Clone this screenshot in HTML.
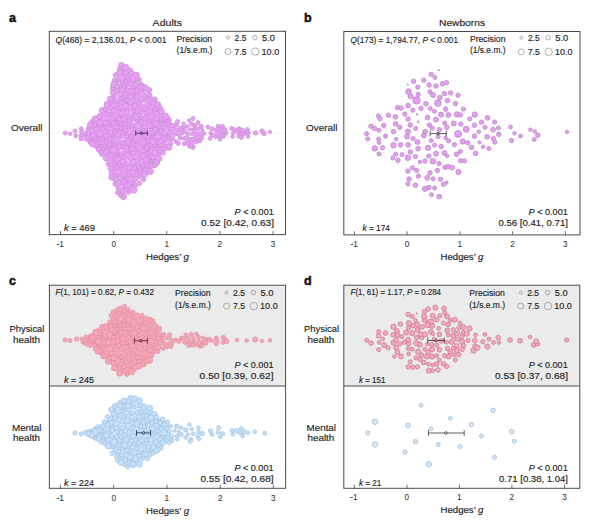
<!DOCTYPE html>
<html><head><meta charset="utf-8"><title>Figure</title>
<style>html,body{margin:0;padding:0;background:#fff}svg{display:block}text{white-space:pre;stroke:#222;stroke-width:0.14px}</style>
</head><body>
<svg width="600" height="523" viewBox="0 0 600 523" font-family="Liberation Sans, sans-serif" fill="#222">
<rect width="600" height="523" fill="#fff"/>
<path d="M51.5 133H284" stroke="#ebebeb" stroke-width="0.8"/>
<polygon points="92.0,124.8 93.3,123.6 94.7,122.2 96.0,120.6 97.3,119.0 98.7,117.4 100.0,115.8 101.3,114.1 102.7,112.2 104.0,110.4 105.3,108.5 106.7,106.6 108.0,104.8 109.3,100.9 110.7,96.1 112.0,91.4 113.3,86.2 114.7,80.4 116.0,75.5 117.3,72.5 118.7,69.6 120.0,66.7 121.3,65.9 122.7,66.9 124.0,67.9 125.3,68.8 126.7,69.8 128.0,70.7 129.3,71.6 130.7,72.5 132.0,73.4 133.3,74.4 134.7,75.3 136.0,76.8 137.3,78.6 138.7,80.4 140.0,82.1 141.3,83.7 142.7,84.9 144.0,86.1 145.3,87.4 146.7,88.6 148.0,89.9 149.3,92.2 150.7,94.5 152.0,96.8 153.3,99.1 154.7,101.3 156.0,103.5 157.3,105.8 158.7,108.0 160.0,109.9 161.3,111.5 162.7,113.1 164.0,114.6 165.3,116.2 166.7,117.8 168.0,119.5 169.3,121.2 170.7,122.8 172.0,124.5 172.0,141.2 170.7,143.1 169.3,145.0 168.0,146.8 166.7,148.7 165.3,150.3 164.0,151.9 162.7,153.4 161.3,155.0 160.0,156.6 158.7,158.3 157.3,160.0 156.0,161.8 154.7,163.5 153.3,165.3 152.0,167.1 150.7,168.8 149.3,170.6 148.0,172.3 146.7,174.1 145.3,175.8 144.0,177.6 142.7,179.3 141.3,181.1 140.0,182.5 138.7,183.7 137.3,184.8 136.0,186.0 134.7,187.2 133.3,188.5 132.0,189.7 130.7,191.0 129.3,192.2 128.0,193.5 126.7,194.7 125.3,195.9 124.0,197.1 122.7,198.2 121.3,196.9 120.0,195.6 118.7,193.2 117.3,190.7 116.0,188.2 114.7,183.8 113.3,178.7 112.0,174.0 110.7,169.7 109.3,165.4 108.0,161.8 106.7,160.0 105.3,158.1 104.0,156.3 102.7,154.4 101.3,152.6 100.0,150.9 98.7,149.3 97.3,147.7 96.0,146.1 94.7,144.5 93.3,143.2 92.0,142.1" fill="#e79ff3" fill-opacity="0.55" stroke="none"/>
<g fill="#e79ff3" stroke="#c88fd8" stroke-width="0.7" fill-opacity="1">
<circle cx="65.3" cy="133.0" r="2.00"/>
<circle cx="70.0" cy="133.8" r="1.80"/>
<circle cx="75.0" cy="131.0" r="2.00"/>
<circle cx="75.8" cy="135.8" r="2.00"/>
<circle cx="81.2" cy="128.5" r="1.80"/>
<circle cx="81.8" cy="132.0" r="2.30"/>
<circle cx="81.0" cy="135.5" r="2.00"/>
<circle cx="81.2" cy="138.7" r="2.20"/>
<circle cx="85.0" cy="135.0" r="2.00"/>
<circle cx="88.2" cy="128.5" r="2.10"/>
<circle cx="92.0" cy="128.0" r="2.20"/>
<circle cx="92.0" cy="121.5" r="2.20"/>
<circle cx="91.0" cy="134.0" r="2.20"/>
<circle cx="91.2" cy="139.0" r="2.20"/>
<circle cx="133.3" cy="129.9" r="2.76"/>
<circle cx="112.3" cy="127.1" r="1.97"/>
<circle cx="136.4" cy="88.1" r="2.45"/>
<circle cx="143.0" cy="155.8" r="3.38"/>
<circle cx="120.3" cy="116.1" r="2.54"/>
<circle cx="102.6" cy="110.8" r="3.44"/>
<circle cx="160.0" cy="145.7" r="3.46"/>
<circle cx="170.9" cy="143.6" r="2.17"/>
<circle cx="156.5" cy="139.5" r="3.47"/>
<circle cx="99.8" cy="130.5" r="2.77"/>
<circle cx="107.2" cy="130.6" r="2.23"/>
<circle cx="158.9" cy="122.4" r="3.36"/>
<circle cx="115.7" cy="179.1" r="2.99"/>
<circle cx="138.7" cy="115.2" r="2.91"/>
<circle cx="109.5" cy="151.9" r="2.26"/>
<circle cx="127.2" cy="102.9" r="2.74"/>
<circle cx="145.5" cy="129.0" r="2.14"/>
<circle cx="122.3" cy="146.3" r="2.55"/>
<circle cx="140.3" cy="98.9" r="3.43"/>
<circle cx="90.0" cy="141.9" r="2.23"/>
<circle cx="154.8" cy="145.1" r="2.22"/>
<circle cx="90.7" cy="125.0" r="3.29"/>
<circle cx="127.8" cy="174.4" r="2.55"/>
<circle cx="139.0" cy="108.7" r="2.45"/>
<circle cx="124.2" cy="85.9" r="2.24"/>
<circle cx="120.5" cy="99.3" r="2.82"/>
<circle cx="154.0" cy="136.2" r="2.83"/>
<circle cx="87.1" cy="138.5" r="3.03"/>
<circle cx="147.8" cy="121.7" r="2.81"/>
<circle cx="135.8" cy="78.5" r="3.22"/>
<circle cx="125.7" cy="109.0" r="3.26"/>
<circle cx="142.5" cy="106.4" r="1.97"/>
<circle cx="131.6" cy="176.2" r="2.19"/>
<circle cx="121.4" cy="124.0" r="2.75"/>
<circle cx="100.8" cy="119.7" r="2.48"/>
<circle cx="115.4" cy="101.6" r="1.99"/>
<circle cx="110.8" cy="115.1" r="2.58"/>
<circle cx="157.5" cy="149.0" r="2.46"/>
<circle cx="122.9" cy="165.3" r="3.12"/>
<circle cx="120.3" cy="86.5" r="1.99"/>
<circle cx="161.6" cy="124.5" r="2.93"/>
<circle cx="137.0" cy="132.5" r="2.27"/>
<circle cx="133.7" cy="189.8" r="3.49"/>
<circle cx="132.3" cy="139.7" r="2.69"/>
<circle cx="119.6" cy="128.3" r="3.10"/>
<circle cx="132.0" cy="83.5" r="3.47"/>
<circle cx="167.6" cy="136.0" r="3.08"/>
<circle cx="140.2" cy="159.2" r="1.93"/>
<circle cx="128.9" cy="127.2" r="2.13"/>
<circle cx="106.1" cy="147.1" r="2.18"/>
<circle cx="127.3" cy="81.1" r="2.90"/>
<circle cx="139.7" cy="171.7" r="2.88"/>
<circle cx="151.6" cy="129.1" r="2.19"/>
<circle cx="117.3" cy="167.3" r="3.18"/>
<circle cx="141.4" cy="121.7" r="2.95"/>
<circle cx="109.6" cy="135.4" r="3.19"/>
<circle cx="124.9" cy="95.3" r="2.41"/>
<circle cx="107.2" cy="154.4" r="1.92"/>
<circle cx="122.4" cy="83.1" r="1.92"/>
<circle cx="164.6" cy="137.1" r="3.49"/>
<circle cx="141.9" cy="128.5" r="2.97"/>
<circle cx="153.8" cy="161.0" r="3.13"/>
<circle cx="143.3" cy="150.3" r="2.83"/>
<circle cx="148.6" cy="157.9" r="2.69"/>
<circle cx="150.1" cy="162.0" r="2.33"/>
<circle cx="106.0" cy="109.2" r="2.88"/>
<circle cx="114.1" cy="163.4" r="1.96"/>
<circle cx="134.2" cy="95.1" r="3.07"/>
<circle cx="128.1" cy="145.7" r="3.43"/>
<circle cx="132.1" cy="125.4" r="2.37"/>
<circle cx="144.9" cy="125.9" r="2.94"/>
<circle cx="96.1" cy="130.3" r="3.49"/>
<circle cx="141.1" cy="84.5" r="2.32"/>
<circle cx="154.5" cy="127.1" r="2.97"/>
<circle cx="118.9" cy="146.8" r="2.87"/>
<circle cx="118.2" cy="187.5" r="2.29"/>
<circle cx="121.0" cy="136.6" r="2.13"/>
<circle cx="152.2" cy="124.5" r="2.21"/>
<circle cx="154.6" cy="99.6" r="2.75"/>
<circle cx="102.0" cy="154.5" r="2.17"/>
<circle cx="91.8" cy="131.0" r="3.16"/>
<circle cx="151.1" cy="106.8" r="3.24"/>
<circle cx="103.4" cy="125.4" r="3.40"/>
<circle cx="151.1" cy="137.3" r="2.28"/>
<circle cx="134.3" cy="91.6" r="2.72"/>
<circle cx="136.6" cy="119.8" r="2.30"/>
<circle cx="141.5" cy="117.8" r="1.95"/>
<circle cx="143.4" cy="137.1" r="3.24"/>
<circle cx="129.0" cy="151.8" r="2.27"/>
<circle cx="120.7" cy="110.5" r="2.44"/>
<circle cx="141.4" cy="145.7" r="2.39"/>
<circle cx="121.7" cy="78.2" r="3.33"/>
<circle cx="111.8" cy="177.2" r="3.03"/>
<circle cx="158.9" cy="154.1" r="2.02"/>
<circle cx="114.9" cy="95.2" r="2.06"/>
<circle cx="125.8" cy="148.8" r="3.40"/>
<circle cx="153.1" cy="133.0" r="2.53"/>
<circle cx="130.3" cy="186.2" r="3.03"/>
<circle cx="135.0" cy="113.8" r="3.16"/>
<circle cx="140.3" cy="87.6" r="3.27"/>
<circle cx="139.6" cy="183.4" r="2.27"/>
<circle cx="132.9" cy="87.7" r="2.09"/>
<circle cx="109.4" cy="110.8" r="3.29"/>
<circle cx="158.1" cy="127.1" r="3.44"/>
<circle cx="134.2" cy="167.8" r="3.43"/>
<circle cx="114.6" cy="110.9" r="2.95"/>
<circle cx="129.7" cy="71.0" r="3.17"/>
<circle cx="120.7" cy="93.8" r="2.83"/>
<circle cx="137.8" cy="91.6" r="3.01"/>
<circle cx="148.9" cy="141.2" r="3.23"/>
<circle cx="115.0" cy="183.8" r="2.30"/>
<circle cx="118.4" cy="80.3" r="2.29"/>
<circle cx="135.6" cy="173.4" r="3.33"/>
<circle cx="134.3" cy="105.8" r="3.42"/>
<circle cx="99.2" cy="149.2" r="3.05"/>
<circle cx="109.6" cy="148.0" r="2.11"/>
<circle cx="155.8" cy="130.5" r="3.43"/>
<circle cx="135.9" cy="84.9" r="2.54"/>
<circle cx="100.0" cy="125.8" r="3.26"/>
<circle cx="157.8" cy="104.8" r="3.10"/>
<circle cx="96.6" cy="133.4" r="2.40"/>
<circle cx="143.6" cy="179.5" r="2.15"/>
<circle cx="135.4" cy="185.6" r="2.17"/>
<circle cx="122.0" cy="89.5" r="2.83"/>
<circle cx="105.8" cy="151.0" r="3.25"/>
<circle cx="125.4" cy="72.3" r="3.06"/>
<circle cx="98.8" cy="144.5" r="2.24"/>
<circle cx="115.4" cy="131.8" r="3.27"/>
<circle cx="159.5" cy="108.1" r="2.84"/>
<circle cx="132.5" cy="153.8" r="2.77"/>
<circle cx="168.5" cy="128.5" r="1.96"/>
<circle cx="169.3" cy="124.8" r="2.81"/>
<circle cx="104.1" cy="114.6" r="2.71"/>
<circle cx="95.3" cy="124.2" r="2.42"/>
<circle cx="146.3" cy="166.5" r="2.29"/>
<circle cx="139.0" cy="140.7" r="2.49"/>
<circle cx="124.5" cy="175.0" r="2.86"/>
<circle cx="135.2" cy="140.9" r="3.16"/>
<circle cx="145.1" cy="108.7" r="3.36"/>
<circle cx="163.1" cy="152.8" r="2.43"/>
<circle cx="120.8" cy="68.8" r="3.16"/>
<circle cx="144.4" cy="94.7" r="1.94"/>
<circle cx="107.5" cy="104.5" r="3.45"/>
<circle cx="122.7" cy="113.3" r="3.19"/>
<circle cx="139.0" cy="103.4" r="2.41"/>
<circle cx="148.0" cy="153.4" r="2.49"/>
<circle cx="95.6" cy="119.2" r="3.43"/>
<circle cx="113.3" cy="118.7" r="3.38"/>
<circle cx="160.8" cy="149.0" r="2.01"/>
<circle cx="106.7" cy="142.2" r="2.81"/>
<circle cx="132.3" cy="172.5" r="3.08"/>
<circle cx="125.5" cy="126.4" r="2.51"/>
<circle cx="128.1" cy="116.9" r="2.62"/>
<circle cx="118.6" cy="141.7" r="2.08"/>
<circle cx="158.1" cy="142.1" r="2.52"/>
<circle cx="125.4" cy="67.4" r="3.32"/>
<circle cx="131.3" cy="157.8" r="3.34"/>
<circle cx="116.1" cy="155.2" r="2.56"/>
<circle cx="153.3" cy="112.6" r="2.91"/>
<circle cx="164.9" cy="143.2" r="1.96"/>
<circle cx="105.9" cy="158.2" r="2.70"/>
<circle cx="119.1" cy="163.3" r="2.74"/>
<circle cx="157.3" cy="114.3" r="3.50"/>
<circle cx="98.1" cy="142.0" r="3.38"/>
<circle cx="116.3" cy="91.2" r="2.25"/>
<circle cx="110.3" cy="132.3" r="2.52"/>
<circle cx="165.7" cy="120.3" r="2.09"/>
<circle cx="111.0" cy="107.5" r="2.30"/>
<circle cx="144.2" cy="100.1" r="1.94"/>
<circle cx="128.8" cy="170.6" r="3.08"/>
<circle cx="95.8" cy="145.8" r="2.60"/>
<circle cx="132.0" cy="118.2" r="2.49"/>
<circle cx="129.7" cy="79.6" r="2.72"/>
<circle cx="167.7" cy="122.4" r="2.69"/>
<circle cx="103.2" cy="145.8" r="2.46"/>
<circle cx="168.7" cy="147.2" r="3.21"/>
<circle cx="161.0" cy="136.2" r="2.03"/>
<circle cx="131.2" cy="135.9" r="3.08"/>
<circle cx="139.3" cy="151.3" r="2.08"/>
<circle cx="144.9" cy="170.9" r="3.13"/>
<circle cx="110.3" cy="143.8" r="2.79"/>
<circle cx="114.3" cy="147.3" r="2.83"/>
<circle cx="147.2" cy="144.6" r="3.00"/>
<circle cx="97.4" cy="136.6" r="3.36"/>
<circle cx="149.1" cy="111.0" r="3.26"/>
<circle cx="111.2" cy="121.9" r="2.70"/>
<circle cx="114.5" cy="80.4" r="2.24"/>
<circle cx="169.6" cy="120.0" r="2.07"/>
<circle cx="117.7" cy="108.1" r="1.91"/>
<circle cx="133.4" cy="182.6" r="2.18"/>
<circle cx="160.8" cy="141.0" r="2.67"/>
<circle cx="155.5" cy="109.8" r="2.04"/>
<circle cx="133.3" cy="110.9" r="2.42"/>
<circle cx="134.0" cy="101.0" r="2.39"/>
<circle cx="123.5" cy="196.8" r="2.98"/>
<circle cx="151.8" cy="153.1" r="3.08"/>
<circle cx="100.0" cy="122.8" r="3.48"/>
<circle cx="129.1" cy="182.5" r="3.42"/>
<circle cx="124.6" cy="186.0" r="2.20"/>
<circle cx="104.3" cy="133.0" r="3.02"/>
<circle cx="142.2" cy="167.6" r="1.96"/>
<circle cx="165.2" cy="124.2" r="2.30"/>
<circle cx="123.4" cy="133.0" r="3.11"/>
<circle cx="87.9" cy="132.5" r="2.79"/>
<circle cx="119.5" cy="132.2" r="3.03"/>
<circle cx="157.9" cy="133.3" r="2.77"/>
<circle cx="132.0" cy="73.9" r="2.73"/>
<circle cx="125.9" cy="167.7" r="3.13"/>
<circle cx="123.0" cy="190.9" r="2.87"/>
<circle cx="113.0" cy="98.2" r="2.31"/>
<circle cx="93.5" cy="135.9" r="2.90"/>
<circle cx="161.2" cy="111.2" r="3.12"/>
<circle cx="116.9" cy="116.4" r="2.86"/>
<circle cx="126.7" cy="137.3" r="2.24"/>
<circle cx="149.0" cy="90.1" r="2.80"/>
<circle cx="127.4" cy="85.3" r="2.04"/>
<circle cx="123.0" cy="161.0" r="3.19"/>
<circle cx="146.8" cy="148.0" r="2.84"/>
<circle cx="120.5" cy="182.0" r="3.28"/>
<circle cx="156.4" cy="162.4" r="3.32"/>
<circle cx="162.6" cy="128.3" r="3.03"/>
<circle cx="100.4" cy="152.1" r="1.92"/>
<circle cx="157.6" cy="136.6" r="3.46"/>
<circle cx="126.7" cy="90.4" r="2.58"/>
<circle cx="114.7" cy="175.2" r="2.05"/>
<circle cx="152.4" cy="103.2" r="2.51"/>
<circle cx="119.8" cy="72.7" r="3.40"/>
<circle cx="144.9" cy="87.8" r="3.20"/>
<circle cx="127.2" cy="163.8" r="2.31"/>
<circle cx="146.9" cy="97.2" r="1.92"/>
<circle cx="136.1" cy="156.4" r="3.23"/>
<circle cx="113.7" cy="158.1" r="3.28"/>
<circle cx="136.3" cy="149.6" r="2.39"/>
<circle cx="99.8" cy="116.2" r="2.80"/>
<circle cx="151.4" cy="149.9" r="3.06"/>
<circle cx="117.8" cy="135.4" r="3.07"/>
<circle cx="115.5" cy="75.1" r="2.39"/>
<circle cx="136.3" cy="75.2" r="3.18"/>
<circle cx="153.3" cy="120.8" r="2.53"/>
<circle cx="131.2" cy="179.6" r="2.78"/>
<circle cx="137.8" cy="125.9" r="3.46"/>
<circle cx="135.4" cy="178.5" r="2.44"/>
<circle cx="131.1" cy="91.7" r="3.40"/>
<circle cx="107.1" cy="127.1" r="2.29"/>
<circle cx="127.1" cy="112.2" r="2.62"/>
<circle cx="150.2" cy="171.4" r="3.20"/>
<circle cx="159.3" cy="158.5" r="2.78"/>
<circle cx="118.1" cy="104.4" r="2.09"/>
<circle cx="141.6" cy="90.8" r="2.26"/>
<circle cx="129.7" cy="167.3" r="2.70"/>
<circle cx="132.4" cy="78.5" r="3.28"/>
<circle cx="130.0" cy="107.1" r="3.23"/>
<circle cx="106.2" cy="136.6" r="3.25"/>
<circle cx="124.9" cy="100.3" r="2.08"/>
<circle cx="154.4" cy="165.4" r="2.68"/>
<circle cx="117.0" cy="123.1" r="2.67"/>
<circle cx="147.0" cy="163.4" r="2.95"/>
<circle cx="146.8" cy="132.4" r="2.32"/>
<circle cx="113.3" cy="150.3" r="3.45"/>
<circle cx="120.0" cy="156.8" r="2.72"/>
<circle cx="125.6" cy="179.3" r="2.15"/>
<circle cx="144.6" cy="174.4" r="2.94"/>
<circle cx="111.2" cy="168.4" r="3.23"/>
<circle cx="167.9" cy="117.7" r="1.91"/>
<circle cx="120.1" cy="195.3" r="1.93"/>
<circle cx="142.2" cy="132.3" r="2.97"/>
<circle cx="107.4" cy="114.0" r="2.28"/>
<circle cx="117.5" cy="192.4" r="2.19"/>
<circle cx="144.2" cy="143.0" r="2.31"/>
<circle cx="119.3" cy="119.3" r="2.41"/>
<circle cx="101.8" cy="142.5" r="2.52"/>
<circle cx="161.9" cy="119.6" r="2.33"/>
<circle cx="114.7" cy="171.7" r="1.97"/>
<circle cx="110.5" cy="155.3" r="1.96"/>
<circle cx="121.5" cy="107.1" r="2.64"/>
<circle cx="139.6" cy="79.8" r="2.01"/>
<circle cx="156.4" cy="118.9" r="3.34"/>
<circle cx="128.3" cy="99.8" r="2.79"/>
<circle cx="133.3" cy="162.3" r="3.00"/>
<circle cx="95.5" cy="139.7" r="2.34"/>
<circle cx="106.7" cy="119.0" r="2.11"/>
<circle cx="109.4" cy="124.6" r="2.16"/>
<circle cx="127.8" cy="141.9" r="3.44"/>
<circle cx="128.5" cy="93.6" r="2.22"/>
<circle cx="160.5" cy="116.2" r="2.60"/>
<circle cx="103.1" cy="149.3" r="1.95"/>
<circle cx="149.9" cy="95.4" r="2.28"/>
<circle cx="124.5" cy="182.3" r="3.19"/>
<circle cx="107.9" cy="164.2" r="2.04"/>
<circle cx="114.0" cy="124.3" r="3.32"/>
<circle cx="102.8" cy="138.4" r="2.07"/>
<circle cx="132.9" cy="133.1" r="3.10"/>
<circle cx="150.9" cy="165.6" r="2.69"/>
<circle cx="150.9" cy="145.0" r="2.38"/>
<circle cx="121.5" cy="154.0" r="2.25"/>
<circle cx="147.4" cy="104.5" r="2.25"/>
<circle cx="127.0" cy="77.0" r="2.44"/>
<circle cx="128.8" cy="121.4" r="3.03"/>
<circle cx="123.1" cy="170.9" r="3.48"/>
<circle cx="138.5" cy="166.0" r="2.43"/>
<circle cx="111.3" cy="102.5" r="1.93"/>
<circle cx="137.5" cy="96.8" r="3.12"/>
<circle cx="124.8" cy="123.0" r="2.75"/>
<circle cx="126.8" cy="188.8" r="2.44"/>
<circle cx="132.6" cy="144.7" r="2.94"/>
<circle cx="161.5" cy="131.9" r="2.64"/>
<circle cx="152.8" cy="156.7" r="3.04"/>
<circle cx="164.0" cy="148.4" r="2.56"/>
<circle cx="110.3" cy="161.1" r="3.19"/>
<circle cx="132.0" cy="149.0" r="3.08"/>
<circle cx="138.8" cy="162.4" r="2.40"/>
<circle cx="127.2" cy="155.3" r="3.16"/>
<circle cx="151.0" cy="116.8" r="3.32"/>
<circle cx="165.1" cy="116.2" r="3.42"/>
<circle cx="125.4" cy="105.8" r="3.17"/>
<circle cx="121.3" cy="64.8" r="2.54"/>
<circle cx="124.7" cy="157.8" r="2.01"/>
<circle cx="118.1" cy="174.6" r="2.04"/>
<circle cx="120.4" cy="177.5" r="2.30"/>
<circle cx="116.2" cy="127.4" r="2.47"/>
<circle cx="102.2" cy="128.7" r="2.38"/>
<circle cx="112.8" cy="141.0" r="2.05"/>
<circle cx="123.9" cy="119.5" r="2.59"/>
<circle cx="99.7" cy="134.1" r="3.27"/>
<circle cx="112.7" cy="88.1" r="2.51"/>
<circle cx="145.9" cy="114.5" r="1.97"/>
<circle cx="115.2" cy="137.6" r="2.16"/>
<circle cx="110.0" cy="138.8" r="2.40"/>
<circle cx="145.0" cy="119.0" r="3.13"/>
<circle cx="111.2" cy="173.5" r="2.22"/>
<circle cx="92.5" cy="143.5" r="3.26"/>
<circle cx="127.2" cy="185.4" r="2.95"/>
<circle cx="164.6" cy="133.3" r="2.78"/>
<circle cx="139.3" cy="176.1" r="1.98"/>
<circle cx="155.5" cy="123.3" r="3.15"/>
<circle cx="168.2" cy="139.2" r="2.14"/>
<circle cx="149.4" cy="99.7" r="2.44"/>
<circle cx="129.2" cy="131.2" r="3.50"/>
<circle cx="135.6" cy="116.8" r="3.12"/>
<circle cx="120.3" cy="169.2" r="2.05"/>
<circle cx="136.1" cy="145.0" r="2.45"/>
<circle cx="117.7" cy="159.2" r="2.69"/>
<circle cx="147.1" cy="135.8" r="3.38"/>
<circle cx="114.0" cy="144.1" r="2.29"/>
<circle cx="123.3" cy="142.8" r="2.61"/>
<circle cx="140.0" cy="136.5" r="3.18"/>
<circle cx="106.0" cy="123.1" r="2.82"/>
<circle cx="170.5" cy="132.8" r="2.70"/>
<circle cx="128.8" cy="192.5" r="1.98"/>
<circle cx="112.6" cy="92.5" r="2.62"/>
<circle cx="144.5" cy="122.7" r="2.78"/>
<circle cx="130.5" cy="96.8" r="2.88"/>
<circle cx="136.0" cy="137.1" r="3.07"/>
<circle cx="117.6" cy="151.8" r="1.98"/>
<circle cx="153.1" cy="141.7" r="2.99"/>
<circle cx="122.0" cy="102.8" r="2.54"/>
<circle cx="143.4" cy="164.7" r="2.22"/>
<circle cx="109.8" cy="98.7" r="2.49"/>
<circle cx="146.1" cy="160.3" r="3.24"/>
<circle cx="155.1" cy="152.8" r="3.09"/>
<circle cx="117.1" cy="86.1" r="2.66"/>
<circle cx="141.4" cy="111.9" r="2.34"/>
<circle cx="99.8" cy="139.2" r="2.24"/>
<circle cx="149.0" cy="126.4" r="2.71"/>
<circle cx="114.1" cy="105.6" r="2.59"/>
<circle cx="125.5" cy="130.3" r="2.25"/>
<circle cx="113.7" cy="84.4" r="2.97"/>
<circle cx="176.5" cy="125.0" r="2.14"/>
<circle cx="173.0" cy="125.5" r="2.22"/>
<circle cx="177.5" cy="121.8" r="2.26"/>
<circle cx="172.5" cy="138.5" r="2.36"/>
<circle cx="178.0" cy="143.2" r="2.22"/>
<circle cx="183.0" cy="128.0" r="2.35"/>
<circle cx="184.0" cy="138.3" r="1.72"/>
<circle cx="174.0" cy="129.0" r="2.03"/>
<circle cx="178.0" cy="130.0" r="2.36"/>
<circle cx="181.0" cy="128.0" r="2.15"/>
<circle cx="175.0" cy="134.0" r="2.33"/>
<circle cx="179.0" cy="135.0" r="1.78"/>
<circle cx="182.0" cy="133.0" r="2.03"/>
<circle cx="176.0" cy="141.5" r="1.87"/>
<circle cx="180.0" cy="138.0" r="2.08"/>
<circle cx="193.0" cy="118.5" r="2.10"/>
<circle cx="189.0" cy="120.5" r="1.71"/>
<circle cx="183.5" cy="123.5" r="1.85"/>
<circle cx="198.0" cy="122.5" r="1.90"/>
<circle cx="191.5" cy="124.0" r="2.34"/>
<circle cx="195.0" cy="126.0" r="2.24"/>
<circle cx="187.0" cy="126.5" r="1.81"/>
<circle cx="201.0" cy="126.5" r="2.26"/>
<circle cx="190.0" cy="129.5" r="1.80"/>
<circle cx="194.0" cy="130.0" r="2.13"/>
<circle cx="198.0" cy="129.5" r="1.79"/>
<circle cx="202.5" cy="130.0" r="1.70"/>
<circle cx="185.0" cy="131.5" r="2.31"/>
<circle cx="188.0" cy="134.0" r="1.85"/>
<circle cx="192.0" cy="134.0" r="1.85"/>
<circle cx="196.0" cy="134.5" r="2.39"/>
<circle cx="200.0" cy="134.0" r="2.31"/>
<circle cx="204.0" cy="133.5" r="1.90"/>
<circle cx="186.0" cy="138.0" r="2.37"/>
<circle cx="189.5" cy="139.0" r="2.08"/>
<circle cx="193.5" cy="139.0" r="2.17"/>
<circle cx="197.5" cy="138.5" r="1.84"/>
<circle cx="201.5" cy="137.5" r="2.36"/>
<circle cx="184.5" cy="143.5" r="2.18"/>
<circle cx="188.0" cy="143.0" r="2.38"/>
<circle cx="192.0" cy="143.0" r="2.33"/>
<circle cx="196.5" cy="142.0" r="1.91"/>
<circle cx="200.0" cy="141.0" r="1.95"/>
<circle cx="189.5" cy="146.5" r="1.82"/>
<circle cx="193.5" cy="146.5" r="1.80"/>
<circle cx="193.0" cy="148.0" r="1.75"/>
<circle cx="208.0" cy="127.0" r="1.91"/>
<circle cx="212.0" cy="129.0" r="2.12"/>
<circle cx="210.5" cy="133.0" r="1.70"/>
<circle cx="212.5" cy="135.0" r="2.17"/>
<circle cx="210.0" cy="138.5" r="1.94"/>
<circle cx="218.0" cy="126.0" r="1.92"/>
<circle cx="222.5" cy="126.5" r="2.27"/>
<circle cx="216.0" cy="130.0" r="2.04"/>
<circle cx="220.0" cy="129.5" r="1.92"/>
<circle cx="224.5" cy="129.5" r="2.04"/>
<circle cx="217.5" cy="133.5" r="2.19"/>
<circle cx="221.5" cy="133.0" r="1.74"/>
<circle cx="225.5" cy="133.0" r="2.38"/>
<circle cx="216.0" cy="137.0" r="1.72"/>
<circle cx="220.0" cy="136.5" r="2.22"/>
<circle cx="223.5" cy="136.0" r="2.29"/>
<circle cx="220.0" cy="139.5" r="1.71"/>
<circle cx="225.0" cy="131.0" r="2.25"/>
<circle cx="231.5" cy="128.5" r="1.96"/>
<circle cx="234.0" cy="129.5" r="2.10"/>
<circle cx="233.0" cy="133.0" r="1.71"/>
<circle cx="232.5" cy="136.5" r="1.73"/>
<circle cx="236.5" cy="131.5" r="1.83"/>
<circle cx="239.0" cy="129.0" r="2.37"/>
<circle cx="240.0" cy="133.0" r="1.84"/>
<circle cx="239.0" cy="136.0" r="2.23"/>
<circle cx="242.5" cy="130.5" r="2.35"/>
<circle cx="242.0" cy="135.0" r="2.36"/>
<circle cx="241.5" cy="137.5" r="1.94"/>
<circle cx="247.5" cy="129.5" r="1.95"/>
<circle cx="245.5" cy="133.0" r="2.07"/>
<circle cx="248.0" cy="133.0" r="2.24"/>
<circle cx="248.0" cy="136.5" r="1.78"/>
<circle cx="255.5" cy="133.0" r="2.22"/>
<circle cx="262.0" cy="131.0" r="2.26"/>
<circle cx="264.0" cy="133.5" r="2.30"/>
<circle cx="270.0" cy="132.0" r="1.73"/>
</g>
<g stroke="#47205a" stroke-width="0.8" fill="none">
<path d="M135.7 133.2H147.3M135.7 130.6V135.8M147.3 130.6V135.8"/>
<circle cx="141.5" cy="133.2" r="1.3" fill="#b070c4"/>
</g>
<rect x="49.3" y="31.3" width="236.2" height="203.29999999999998" fill="none" stroke="#4a4a4a" stroke-width="1"/>
<text x="9.0" y="21.6" font-size="12.5" font-weight="bold" fill="#111" style="stroke:#111;stroke-width:0.5px">a</text>
<text x="152.6" y="25.6" font-size="9.5" textLength="29.4" lengthAdjust="spacingAndGlyphs">Adults</text>
<text x="55.6" y="43.0" font-size="8.5" textLength="110.8" lengthAdjust="spacingAndGlyphs"><tspan font-style="italic">Q</tspan>(468) = 2,136.01, <tspan font-style="italic">P</tspan> &lt; 0.001</text>
<text x="176.6" y="41.9" font-size="8.5" textLength="35.6" lengthAdjust="spacingAndGlyphs">Precision</text>
<text x="176.6" y="53.2" font-size="8.5" textLength="35.8" lengthAdjust="spacingAndGlyphs">(1/s.e.m.)</text>
<g fill="none" stroke="#7a7a7a" stroke-width="0.6">
<circle cx="228.0" cy="37.5" r="1.5"/>
<circle cx="254.9" cy="37.5" r="2.3"/>
<circle cx="228.0" cy="51.6" r="3.0"/>
<circle cx="255.3" cy="51.6" r="3.7"/>
</g>
<text x="234.6" y="41.1" font-size="8.5" textLength="11.8" lengthAdjust="spacingAndGlyphs">2.5</text>
<text x="262.0" y="41.1" font-size="8.5" textLength="13.0" lengthAdjust="spacingAndGlyphs">5.0</text>
<text x="234.5" y="54.5" font-size="8.5" textLength="12.0" lengthAdjust="spacingAndGlyphs">7.5</text>
<text x="261.6" y="54.5" font-size="8.5" textLength="17.6" lengthAdjust="spacingAndGlyphs">10.0</text>
<text x="11.0" y="131.0" font-size="9.5" textLength="31.4" lengthAdjust="spacingAndGlyphs">Overall</text>
<text x="64.0" y="231.0" font-size="8.5" textLength="31.0" lengthAdjust="spacingAndGlyphs"><tspan font-style="italic">k</tspan> = 469</text>
<text x="273.8" y="215.0" font-size="8.5" text-anchor="end" textLength="39.2" lengthAdjust="spacingAndGlyphs"><tspan font-style="italic">P</tspan> &lt; 0.001</text>
<text x="274.0" y="226.0" font-size="8.5" text-anchor="end" textLength="73.0" lengthAdjust="spacingAndGlyphs">0.52 [0.42, 0.63]</text>
<path d="M60.5 234.6v-3.6M113.7 234.6v-3.6M166.8 234.6v-3.6M219.9 234.6v-3.6M273.1 234.6v-3.6" stroke="#4a4a4a" stroke-width="0.8" fill="none"/>
<text x="60.2" y="246.6" font-size="8.2" text-anchor="middle" style="stroke-width:0.05px" fill="#333">-1</text>
<text x="113.7" y="246.6" font-size="8.2" text-anchor="middle" style="stroke-width:0.05px" fill="#333">0</text>
<text x="166.8" y="246.6" font-size="8.2" text-anchor="middle" style="stroke-width:0.05px" fill="#333">1</text>
<text x="219.9" y="246.6" font-size="8.2" text-anchor="middle" style="stroke-width:0.05px" fill="#333">2</text>
<text x="273.1" y="246.6" font-size="8.2" text-anchor="middle" style="stroke-width:0.05px" fill="#333">3</text>
<text x="146.0" y="260.0" font-size="9" textLength="43.0" lengthAdjust="spacingAndGlyphs">Hedges’ <tspan font-style="italic">g</tspan></text>
<g fill="#e79ff3" stroke="#bb87ca" stroke-width="0.85" fill-opacity="1">
<circle cx="431.2" cy="74.4" r="2.20"/>
<circle cx="435.0" cy="77.5" r="2.00"/>
<circle cx="413.5" cy="81.2" r="2.20"/>
<circle cx="423.8" cy="80.2" r="2.20"/>
<circle cx="407.9" cy="84.6" r="0.70"/>
<circle cx="429.1" cy="85.0" r="2.20"/>
<circle cx="417.8" cy="87.1" r="2.10"/>
<circle cx="436.0" cy="86.0" r="2.20"/>
<circle cx="408.5" cy="91.6" r="2.80"/>
<circle cx="410.6" cy="96.2" r="2.50"/>
<circle cx="418.1" cy="94.4" r="2.20"/>
<circle cx="430.0" cy="91.9" r="2.10"/>
<circle cx="433.1" cy="95.0" r="2.50"/>
<circle cx="416.5" cy="100.4" r="3.70"/>
<circle cx="425.9" cy="103.8" r="2.30"/>
<circle cx="397.5" cy="107.5" r="2.20"/>
<circle cx="401.2" cy="108.1" r="2.20"/>
<circle cx="408.1" cy="105.6" r="2.30"/>
<circle cx="421.0" cy="108.4" r="2.20"/>
<circle cx="412.9" cy="110.2" r="2.10"/>
<circle cx="430.2" cy="108.4" r="2.00"/>
<circle cx="434.4" cy="111.2" r="2.00"/>
<circle cx="404.8" cy="114.0" r="2.20"/>
<circle cx="417.1" cy="114.4" r="0.80"/>
<circle cx="378.5" cy="116.0" r="2.10"/>
<circle cx="380.0" cy="118.8" r="2.10"/>
<circle cx="388.4" cy="115.2" r="2.20"/>
<circle cx="395.4" cy="116.9" r="2.30"/>
<circle cx="408.1" cy="119.0" r="2.20"/>
<circle cx="427.5" cy="117.5" r="2.30"/>
<circle cx="436.0" cy="119.5" r="2.50"/>
<circle cx="418.1" cy="121.9" r="0.90"/>
<circle cx="395.6" cy="123.8" r="2.30"/>
<circle cx="399.7" cy="127.3" r="2.20"/>
<circle cx="383.8" cy="125.4" r="2.20"/>
<circle cx="410.2" cy="125.0" r="2.30"/>
<circle cx="371.0" cy="126.2" r="2.20"/>
<circle cx="374.6" cy="128.4" r="2.20"/>
<circle cx="378.9" cy="130.2" r="2.00"/>
<circle cx="415.6" cy="128.5" r="2.10"/>
<circle cx="429.4" cy="125.0" r="2.20"/>
<circle cx="432.2" cy="128.1" r="2.10"/>
<circle cx="393.5" cy="131.5" r="2.30"/>
<circle cx="408.0" cy="131.5" r="2.50"/>
<circle cx="438.8" cy="70.2" r="0.70"/>
<circle cx="442.5" cy="83.8" r="2.20"/>
<circle cx="446.6" cy="82.8" r="2.20"/>
<circle cx="444.4" cy="93.5" r="2.20"/>
<circle cx="450.6" cy="92.9" r="2.20"/>
<circle cx="458.1" cy="95.2" r="2.20"/>
<circle cx="439.8" cy="97.5" r="2.30"/>
<circle cx="447.5" cy="100.6" r="2.30"/>
<circle cx="437.8" cy="103.1" r="3.30"/>
<circle cx="455.4" cy="103.5" r="2.20"/>
<circle cx="445.6" cy="109.1" r="2.30"/>
<circle cx="463.4" cy="109.1" r="2.10"/>
<circle cx="441.0" cy="114.6" r="2.50"/>
<circle cx="448.4" cy="115.0" r="2.50"/>
<circle cx="456.9" cy="114.4" r="2.70"/>
<circle cx="460.6" cy="114.8" r="2.10"/>
<circle cx="474.8" cy="114.6" r="2.70"/>
<circle cx="469.8" cy="118.8" r="2.10"/>
<circle cx="487.5" cy="117.9" r="2.30"/>
<circle cx="444.8" cy="123.1" r="2.10"/>
<circle cx="453.8" cy="123.4" r="2.50"/>
<circle cx="460.9" cy="124.1" r="2.20"/>
<circle cx="481.5" cy="122.2" r="2.20"/>
<circle cx="494.6" cy="122.1" r="2.10"/>
<circle cx="474.4" cy="125.2" r="2.20"/>
<circle cx="446.9" cy="127.3" r="2.30"/>
<circle cx="485.0" cy="127.3" r="2.10"/>
<circle cx="466.2" cy="129.3" r="3.00"/>
<circle cx="439.4" cy="129.7" r="2.20"/>
<circle cx="493.1" cy="129.6" r="2.45"/>
<circle cx="498.4" cy="128.0" r="2.00"/>
<circle cx="510.5" cy="127.0" r="1.90"/>
<circle cx="498.8" cy="134.3" r="2.20"/>
<circle cx="514.5" cy="133.3" r="1.80"/>
<circle cx="520.5" cy="136.0" r="1.95"/>
<circle cx="511.5" cy="140.5" r="2.20"/>
<circle cx="530.5" cy="129.7" r="1.80"/>
<circle cx="534.8" cy="131.5" r="1.80"/>
<circle cx="537.8" cy="135.2" r="2.20"/>
<circle cx="534.3" cy="139.5" r="1.95"/>
<circle cx="567.1" cy="131.8" r="1.80"/>
<circle cx="366.5" cy="133.6" r="2.10"/>
<circle cx="367.8" cy="138.9" r="2.10"/>
<circle cx="378.5" cy="139.0" r="2.00"/>
<circle cx="379.0" cy="142.4" r="2.00"/>
<circle cx="385.6" cy="136.1" r="2.10"/>
<circle cx="396.2" cy="139.2" r="1.80"/>
<circle cx="374.8" cy="148.4" r="2.70"/>
<circle cx="382.5" cy="147.6" r="2.20"/>
<circle cx="379.0" cy="154.0" r="2.10"/>
<circle cx="393.5" cy="145.2" r="2.70"/>
<circle cx="400.6" cy="144.9" r="2.30"/>
<circle cx="408.1" cy="144.9" r="2.30"/>
<circle cx="407.0" cy="136.6" r="2.50"/>
<circle cx="413.1" cy="138.6" r="2.10"/>
<circle cx="417.5" cy="142.0" r="2.45"/>
<circle cx="425.0" cy="131.8" r="2.40"/>
<circle cx="423.8" cy="135.5" r="2.40"/>
<circle cx="431.2" cy="140.5" r="2.00"/>
<circle cx="418.1" cy="148.6" r="2.45"/>
<circle cx="427.9" cy="147.8" r="2.60"/>
<circle cx="434.5" cy="145.2" r="2.00"/>
<circle cx="410.4" cy="152.0" r="2.20"/>
<circle cx="395.6" cy="154.2" r="2.00"/>
<circle cx="401.9" cy="154.6" r="2.00"/>
<circle cx="392.8" cy="158.0" r="2.00"/>
<circle cx="397.9" cy="160.2" r="2.30"/>
<circle cx="407.9" cy="157.8" r="2.70"/>
<circle cx="415.4" cy="156.5" r="2.10"/>
<circle cx="428.8" cy="156.1" r="2.20"/>
<circle cx="425.0" cy="161.1" r="2.20"/>
<circle cx="420.0" cy="162.0" r="1.80"/>
<circle cx="432.8" cy="161.3" r="2.80"/>
<circle cx="436.0" cy="153.8" r="2.45"/>
<circle cx="412.5" cy="167.8" r="2.20"/>
<circle cx="407.9" cy="171.1" r="2.20"/>
<circle cx="416.6" cy="170.5" r="2.10"/>
<circle cx="430.0" cy="172.8" r="2.20"/>
<circle cx="418.4" cy="176.1" r="2.10"/>
<circle cx="427.2" cy="177.8" r="2.45"/>
<circle cx="433.1" cy="178.8" r="2.00"/>
<circle cx="409.1" cy="179.0" r="2.20"/>
<circle cx="407.9" cy="183.9" r="2.10"/>
<circle cx="415.4" cy="185.1" r="2.30"/>
<circle cx="425.0" cy="188.8" r="2.60"/>
<circle cx="429.0" cy="187.5" r="2.20"/>
<circle cx="434.6" cy="188.0" r="2.00"/>
<circle cx="431.5" cy="194.7" r="2.00"/>
<circle cx="439.3" cy="196.6" r="2.40"/>
<circle cx="438.1" cy="136.8" r="2.00"/>
<circle cx="445.6" cy="138.0" r="1.80"/>
<circle cx="448.5" cy="140.9" r="2.10"/>
<circle cx="458.1" cy="133.9" r="3.45"/>
<circle cx="478.8" cy="131.8" r="1.80"/>
<circle cx="474.4" cy="136.1" r="2.30"/>
<circle cx="487.1" cy="136.8" r="2.30"/>
<circle cx="493.4" cy="138.6" r="2.20"/>
<circle cx="494.8" cy="142.2" r="2.10"/>
<circle cx="441.2" cy="146.5" r="2.20"/>
<circle cx="454.4" cy="144.6" r="2.20"/>
<circle cx="462.8" cy="141.5" r="2.60"/>
<circle cx="467.8" cy="142.8" r="2.10"/>
<circle cx="479.4" cy="142.4" r="1.60"/>
<circle cx="471.6" cy="147.4" r="2.30"/>
<circle cx="483.1" cy="146.8" r="1.80"/>
<circle cx="488.8" cy="148.6" r="2.00"/>
<circle cx="444.4" cy="153.0" r="2.45"/>
<circle cx="447.1" cy="155.8" r="1.80"/>
<circle cx="456.5" cy="154.2" r="2.20"/>
<circle cx="460.4" cy="151.5" r="2.10"/>
<circle cx="475.6" cy="153.4" r="2.30"/>
<circle cx="460.6" cy="160.8" r="2.10"/>
<circle cx="464.4" cy="160.8" r="2.10"/>
<circle cx="439.1" cy="163.6" r="2.20"/>
<circle cx="445.0" cy="167.4" r="2.20"/>
<circle cx="448.1" cy="166.5" r="2.20"/>
<circle cx="452.1" cy="167.6" r="2.45"/>
<circle cx="437.5" cy="170.5" r="2.20"/>
<circle cx="458.5" cy="172.0" r="2.60"/>
<circle cx="440.4" cy="179.2" r="2.10"/>
<circle cx="443.5" cy="184.2" r="2.20"/>
<circle cx="446.6" cy="182.6" r="1.60"/>
</g>
<g stroke="#3a3040" stroke-width="0.8" fill="none">
<path d="M430.2 133.6H446.2M430.2 130.8V136.4M446.2 130.8V136.4"/>
<circle cx="438.1" cy="133.6" r="1.3" fill="#c08ad0"/>
</g>
<rect x="343.8" y="31.5" width="236.2" height="203.4" fill="none" stroke="#4a4a4a" stroke-width="1"/>
<text x="304.0" y="21.6" font-size="12.5" font-weight="bold" fill="#111" style="stroke:#111;stroke-width:0.5px">b</text>
<text x="439.0" y="25.6" font-size="9.5" textLength="46.0" lengthAdjust="spacingAndGlyphs">Newborns</text>
<text x="350.6" y="43.0" font-size="8.5" textLength="107.4" lengthAdjust="spacingAndGlyphs"><tspan font-style="italic">Q</tspan>(173) = 1,794.77, <tspan font-style="italic">P</tspan> &lt; 0.001</text>
<text x="469.9" y="42.1" font-size="8.5" textLength="35.6" lengthAdjust="spacingAndGlyphs">Precision</text>
<text x="469.9" y="53.4" font-size="8.5" textLength="35.8" lengthAdjust="spacingAndGlyphs">(1/s.e.m.)</text>
<g fill="none" stroke="#7a7a7a" stroke-width="0.6">
<circle cx="521.3" cy="37.7" r="1.5"/>
<circle cx="548.2" cy="37.7" r="2.3"/>
<circle cx="521.3" cy="51.8" r="3.0"/>
<circle cx="548.6" cy="51.8" r="3.7"/>
</g>
<text x="527.9" y="41.3" font-size="8.5" textLength="11.8" lengthAdjust="spacingAndGlyphs">2.5</text>
<text x="555.3" y="41.3" font-size="8.5" textLength="13.0" lengthAdjust="spacingAndGlyphs">5.0</text>
<text x="527.8" y="54.7" font-size="8.5" textLength="12.0" lengthAdjust="spacingAndGlyphs">7.5</text>
<text x="554.9" y="54.7" font-size="8.5" textLength="17.6" lengthAdjust="spacingAndGlyphs">10.0</text>
<text x="306.0" y="131.0" font-size="9.5" textLength="31.4" lengthAdjust="spacingAndGlyphs">Overall</text>
<text x="362.4" y="231.0" font-size="8.5" textLength="27.6" lengthAdjust="spacingAndGlyphs"><tspan font-style="italic">k</tspan> = 174</text>
<text x="567.8" y="215.0" font-size="8.5" text-anchor="end" textLength="39.2" lengthAdjust="spacingAndGlyphs"><tspan font-style="italic">P</tspan> &lt; 0.001</text>
<text x="568.0" y="226.0" font-size="8.5" text-anchor="end" textLength="69.6" lengthAdjust="spacingAndGlyphs">0.56 [0.41, 0.71]</text>
<path d="M354.4 234.9v-3.6M407.1 234.9v-3.6M459.9 234.9v-3.6M512.6 234.9v-3.6M565.4 234.9v-3.6" stroke="#4a4a4a" stroke-width="0.8" fill="none"/>
<text x="354.1" y="246.6" font-size="8.2" text-anchor="middle" style="stroke-width:0.05px" fill="#333">-1</text>
<text x="407.1" y="246.6" font-size="8.2" text-anchor="middle" style="stroke-width:0.05px" fill="#333">0</text>
<text x="459.9" y="246.6" font-size="8.2" text-anchor="middle" style="stroke-width:0.05px" fill="#333">1</text>
<text x="512.6" y="246.6" font-size="8.2" text-anchor="middle" style="stroke-width:0.05px" fill="#333">2</text>
<text x="565.4" y="246.6" font-size="8.2" text-anchor="middle" style="stroke-width:0.05px" fill="#333">3</text>
<text x="440.5" y="260.0" font-size="9" textLength="43.0" lengthAdjust="spacingAndGlyphs">Hedges’ <tspan font-style="italic">g</tspan></text>
<rect x="49.4" y="285.2" width="236.20000000000002" height="100.80000000000001" fill="#ebebeb"/>
<polygon points="90.0,336.9 91.2,336.4 92.4,336.0 93.7,335.4 94.9,334.8 96.1,334.1 97.3,333.4 98.5,332.7 99.7,332.0 101.0,331.3 102.2,330.2 103.4,328.9 104.6,327.6 105.8,326.3 107.0,325.0 108.2,323.7 109.5,322.2 110.7,320.1 111.9,318.0 113.1,315.8 114.3,313.7 115.5,311.9 116.8,310.8 118.0,309.8 119.2,308.7 120.4,307.6 121.6,306.9 122.8,307.3 124.1,307.7 125.3,308.2 126.5,308.6 127.7,309.3 128.9,310.0 130.2,310.8 131.4,311.6 132.6,312.3 133.8,313.1 135.0,313.8 136.2,314.3 137.4,314.9 138.7,315.4 139.9,315.9 141.1,316.5 142.3,317.0 143.5,317.6 144.8,318.2 146.0,318.8 147.2,319.4 148.4,320.0 149.6,320.6 150.8,321.2 152.1,322.6 153.3,323.9 154.5,325.2 155.7,326.5 156.9,327.9 158.1,330.2 159.3,332.5 160.6,334.8 161.8,335.2 163.0,335.2 163.0,344.3 161.8,344.3 160.6,344.7 159.3,346.8 158.1,349.0 156.9,351.1 155.7,352.4 154.5,353.6 153.3,354.8 152.1,356.1 150.8,357.3 149.6,358.1 148.4,358.9 147.2,359.8 146.0,360.6 144.8,361.5 143.5,362.3 142.3,363.1 141.1,363.9 139.9,364.6 138.7,365.4 137.4,366.1 136.2,366.9 135.0,367.7 133.8,368.4 132.6,369.2 131.4,369.9 130.2,370.7 128.9,371.5 127.7,372.2 126.5,372.9 125.3,373.2 124.1,373.5 122.8,373.3 121.6,372.5 120.4,371.7 119.2,370.9 118.0,370.1 116.8,369.3 115.5,368.5 114.3,367.1 113.1,365.3 111.9,363.6 110.7,361.9 109.5,360.2 108.2,358.8 107.0,357.5 105.8,356.2 104.6,354.9 103.4,353.6 102.2,352.3 101.0,351.1 99.7,350.1 98.5,349.1 97.3,348.1 96.1,347.1 94.9,346.2 93.7,345.2 92.4,344.5 91.2,344.1 90.0,343.6" fill="#f5a5b6" fill-opacity="0.55" stroke="none"/>
<g fill="#f5a5b6" stroke="#e090a1" stroke-width="0.7" fill-opacity="1">
<circle cx="124.3" cy="370.9" r="2.51"/>
<circle cx="99.0" cy="347.4" r="3.14"/>
<circle cx="153.7" cy="330.4" r="2.47"/>
<circle cx="118.4" cy="344.7" r="3.05"/>
<circle cx="117.3" cy="310.7" r="2.79"/>
<circle cx="119.9" cy="325.0" r="3.03"/>
<circle cx="113.1" cy="362.8" r="2.50"/>
<circle cx="130.1" cy="334.1" r="2.29"/>
<circle cx="127.0" cy="324.7" r="3.19"/>
<circle cx="109.6" cy="338.3" r="2.44"/>
<circle cx="151.7" cy="355.1" r="2.43"/>
<circle cx="89.2" cy="338.4" r="2.65"/>
<circle cx="128.8" cy="346.2" r="2.94"/>
<circle cx="103.6" cy="339.4" r="2.06"/>
<circle cx="127.9" cy="309.7" r="2.28"/>
<circle cx="125.1" cy="358.2" r="2.30"/>
<circle cx="128.4" cy="319.4" r="3.29"/>
<circle cx="120.4" cy="349.3" r="2.34"/>
<circle cx="127.5" cy="313.3" r="3.05"/>
<circle cx="114.7" cy="367.7" r="3.20"/>
<circle cx="109.9" cy="321.8" r="2.09"/>
<circle cx="125.3" cy="342.2" r="2.41"/>
<circle cx="127.8" cy="331.6" r="2.06"/>
<circle cx="119.7" cy="373.0" r="3.15"/>
<circle cx="118.4" cy="338.3" r="2.37"/>
<circle cx="142.8" cy="323.3" r="3.18"/>
<circle cx="140.5" cy="326.3" r="2.94"/>
<circle cx="123.7" cy="321.7" r="2.44"/>
<circle cx="104.4" cy="348.4" r="2.89"/>
<circle cx="98.0" cy="331.2" r="2.49"/>
<circle cx="149.3" cy="360.0" r="3.36"/>
<circle cx="157.2" cy="333.4" r="2.12"/>
<circle cx="130.6" cy="325.2" r="2.43"/>
<circle cx="123.2" cy="315.0" r="3.39"/>
<circle cx="100.9" cy="352.9" r="2.28"/>
<circle cx="122.6" cy="361.5" r="2.20"/>
<circle cx="133.7" cy="357.7" r="2.89"/>
<circle cx="151.9" cy="346.4" r="3.38"/>
<circle cx="124.2" cy="325.7" r="2.34"/>
<circle cx="127.3" cy="362.3" r="2.84"/>
<circle cx="118.0" cy="316.0" r="2.74"/>
<circle cx="118.2" cy="354.8" r="2.50"/>
<circle cx="126.8" cy="374.2" r="2.25"/>
<circle cx="153.0" cy="321.3" r="2.30"/>
<circle cx="138.7" cy="344.2" r="2.40"/>
<circle cx="134.0" cy="317.8" r="2.14"/>
<circle cx="132.8" cy="312.4" r="2.42"/>
<circle cx="120.6" cy="332.9" r="2.78"/>
<circle cx="156.7" cy="341.4" r="2.63"/>
<circle cx="148.1" cy="329.7" r="3.38"/>
<circle cx="144.9" cy="357.1" r="2.28"/>
<circle cx="104.2" cy="352.9" r="2.32"/>
<circle cx="116.8" cy="340.9" r="3.26"/>
<circle cx="120.3" cy="364.2" r="3.40"/>
<circle cx="137.1" cy="347.4" r="3.16"/>
<circle cx="130.1" cy="315.7" r="2.46"/>
<circle cx="141.5" cy="319.2" r="2.57"/>
<circle cx="114.5" cy="326.9" r="2.97"/>
<circle cx="154.8" cy="348.5" r="2.44"/>
<circle cx="100.0" cy="336.8" r="2.51"/>
<circle cx="134.6" cy="367.4" r="3.22"/>
<circle cx="90.8" cy="335.7" r="2.03"/>
<circle cx="158.9" cy="328.9" r="2.83"/>
<circle cx="128.5" cy="365.7" r="2.84"/>
<circle cx="108.3" cy="361.2" r="3.04"/>
<circle cx="120.1" cy="308.5" r="2.39"/>
<circle cx="143.0" cy="363.5" r="3.37"/>
<circle cx="153.6" cy="351.7" r="2.10"/>
<circle cx="137.6" cy="326.3" r="2.75"/>
<circle cx="123.7" cy="366.5" r="2.25"/>
<circle cx="87.7" cy="342.9" r="2.04"/>
<circle cx="97.2" cy="337.4" r="3.04"/>
<circle cx="107.3" cy="352.4" r="2.71"/>
<circle cx="146.1" cy="327.3" r="3.26"/>
<circle cx="131.1" cy="343.1" r="2.67"/>
<circle cx="124.4" cy="331.9" r="2.51"/>
<circle cx="141.6" cy="358.6" r="2.58"/>
<circle cx="134.5" cy="353.2" r="2.63"/>
<circle cx="160.3" cy="335.6" r="3.01"/>
<circle cx="159.5" cy="338.8" r="2.97"/>
<circle cx="135.8" cy="337.3" r="3.36"/>
<circle cx="94.6" cy="339.9" r="2.62"/>
<circle cx="126.4" cy="338.7" r="2.62"/>
<circle cx="115.2" cy="333.2" r="2.69"/>
<circle cx="140.8" cy="339.7" r="2.98"/>
<circle cx="149.4" cy="322.7" r="2.48"/>
<circle cx="112.3" cy="345.5" r="2.38"/>
<circle cx="124.2" cy="354.0" r="2.72"/>
<circle cx="153.3" cy="336.9" r="3.10"/>
<circle cx="138.4" cy="357.3" r="2.95"/>
<circle cx="117.9" cy="360.6" r="3.04"/>
<circle cx="93.2" cy="342.5" r="2.67"/>
<circle cx="160.4" cy="342.9" r="2.37"/>
<circle cx="105.6" cy="335.3" r="3.37"/>
<circle cx="138.8" cy="321.4" r="3.03"/>
<circle cx="149.4" cy="350.5" r="2.91"/>
<circle cx="98.2" cy="350.9" r="3.29"/>
<circle cx="134.8" cy="362.0" r="3.07"/>
<circle cx="119.5" cy="321.0" r="2.96"/>
<circle cx="132.8" cy="322.0" r="2.62"/>
<circle cx="100.0" cy="333.6" r="2.25"/>
<circle cx="106.8" cy="345.1" r="3.01"/>
<circle cx="128.9" cy="355.4" r="2.28"/>
<circle cx="132.0" cy="338.4" r="2.23"/>
<circle cx="122.8" cy="328.9" r="2.16"/>
<circle cx="113.4" cy="312.2" r="2.39"/>
<circle cx="111.9" cy="353.5" r="2.50"/>
<circle cx="148.3" cy="346.0" r="2.46"/>
<circle cx="100.4" cy="330.1" r="2.62"/>
<circle cx="137.0" cy="315.2" r="2.27"/>
<circle cx="115.6" cy="349.4" r="2.75"/>
<circle cx="154.8" cy="326.3" r="3.21"/>
<circle cx="111.5" cy="315.6" r="2.39"/>
<circle cx="125.7" cy="335.1" r="2.26"/>
<circle cx="96.8" cy="344.1" r="2.75"/>
<circle cx="102.6" cy="327.3" r="2.95"/>
<circle cx="103.8" cy="356.2" r="2.84"/>
<circle cx="143.7" cy="336.6" r="2.69"/>
<circle cx="124.1" cy="311.3" r="2.08"/>
<circle cx="121.9" cy="357.1" r="2.09"/>
<circle cx="130.8" cy="352.1" r="2.10"/>
<circle cx="103.7" cy="343.5" r="2.62"/>
<circle cx="146.1" cy="361.4" r="2.57"/>
<circle cx="138.5" cy="352.8" r="3.19"/>
<circle cx="122.7" cy="338.8" r="3.06"/>
<circle cx="139.1" cy="366.0" r="3.09"/>
<circle cx="128.2" cy="370.4" r="3.38"/>
<circle cx="109.4" cy="334.5" r="3.30"/>
<circle cx="114.5" cy="330.1" r="3.34"/>
<circle cx="107.8" cy="356.3" r="2.16"/>
<circle cx="139.3" cy="331.0" r="2.50"/>
<circle cx="139.2" cy="335.4" r="2.05"/>
<circle cx="158.0" cy="347.2" r="2.86"/>
<circle cx="113.5" cy="318.6" r="2.20"/>
<circle cx="105.0" cy="331.6" r="3.14"/>
<circle cx="110.7" cy="357.8" r="2.39"/>
<circle cx="139.0" cy="361.4" r="2.35"/>
<circle cx="86.6" cy="340.8" r="2.22"/>
<circle cx="89.8" cy="344.7" r="2.74"/>
<circle cx="146.2" cy="339.4" r="2.92"/>
<circle cx="94.1" cy="335.9" r="2.01"/>
<circle cx="143.5" cy="328.5" r="2.96"/>
<circle cx="106.3" cy="326.6" r="3.10"/>
<circle cx="95.8" cy="332.4" r="3.18"/>
<circle cx="146.4" cy="322.2" r="3.06"/>
<circle cx="111.4" cy="329.9" r="2.89"/>
<circle cx="150.8" cy="341.5" r="3.39"/>
<circle cx="108.3" cy="342.0" r="3.00"/>
<circle cx="129.2" cy="328.6" r="2.30"/>
<circle cx="99.9" cy="344.4" r="3.24"/>
<circle cx="145.3" cy="333.9" r="2.37"/>
<circle cx="125.6" cy="347.7" r="3.09"/>
<circle cx="145.1" cy="348.8" r="2.46"/>
<circle cx="141.9" cy="315.3" r="2.16"/>
<circle cx="127.3" cy="351.0" r="2.56"/>
<circle cx="134.4" cy="333.3" r="3.14"/>
<circle cx="131.9" cy="364.2" r="2.10"/>
<circle cx="150.5" cy="319.5" r="2.22"/>
<circle cx="148.1" cy="354.5" r="2.91"/>
<circle cx="149.8" cy="336.3" r="2.25"/>
<circle cx="86.2" cy="337.0" r="2.11"/>
<circle cx="132.7" cy="346.9" r="3.28"/>
<circle cx="135.4" cy="341.4" r="2.96"/>
<circle cx="98.7" cy="342.1" r="3.20"/>
<circle cx="113.9" cy="357.9" r="2.94"/>
<circle cx="117.9" cy="329.0" r="2.07"/>
<circle cx="95.8" cy="348.8" r="2.50"/>
<circle cx="145.4" cy="353.0" r="2.76"/>
<circle cx="124.4" cy="306.5" r="2.34"/>
<circle cx="119.0" cy="368.1" r="2.22"/>
<circle cx="110.6" cy="325.9" r="2.46"/>
<circle cx="89.9" cy="340.7" r="2.32"/>
<circle cx="109.3" cy="348.9" r="3.15"/>
<circle cx="94.5" cy="345.5" r="2.19"/>
<circle cx="120.0" cy="312.7" r="2.12"/>
<circle cx="140.4" cy="348.2" r="2.68"/>
<circle cx="146.2" cy="318.5" r="2.49"/>
<circle cx="144.8" cy="344.0" r="3.07"/>
<circle cx="149.3" cy="325.7" r="2.38"/>
<circle cx="150.7" cy="333.0" r="2.83"/>
<circle cx="122.1" cy="343.0" r="2.15"/>
<circle cx="133.3" cy="328.5" r="2.29"/>
<circle cx="114.0" cy="337.7" r="2.62"/>
<circle cx="134.2" cy="350.0" r="2.35"/>
<circle cx="114.9" cy="322.1" r="2.26"/>
<circle cx="131.6" cy="371.5" r="3.29"/>
<circle cx="113.1" cy="341.6" r="2.70"/>
<circle cx="92.0" cy="338.4" r="3.12"/>
<circle cx="129.5" cy="359.4" r="2.63"/>
<circle cx="117.8" cy="335.1" r="2.32"/>
<circle cx="120.9" cy="318.2" r="3.09"/>
<circle cx="157.9" cy="351.6" r="2.08"/>
<circle cx="163.8" cy="334.8" r="2.18"/>
<circle cx="169.7" cy="334.8" r="2.19"/>
<circle cx="162.7" cy="339.5" r="1.99"/>
<circle cx="167.3" cy="338.3" r="1.86"/>
<circle cx="171.4" cy="339.5" r="1.70"/>
<circle cx="164.4" cy="343.6" r="2.10"/>
<circle cx="169.1" cy="343.6" r="1.98"/>
<circle cx="163.3" cy="348.3" r="2.16"/>
<circle cx="166.8" cy="347.1" r="1.92"/>
<circle cx="170.8" cy="346.5" r="2.16"/>
<circle cx="172.0" cy="343.6" r="1.86"/>
<circle cx="175.5" cy="340.1" r="2.18"/>
<circle cx="179.0" cy="341.3" r="2.14"/>
<circle cx="181.3" cy="338.3" r="1.95"/>
<circle cx="186.0" cy="334.8" r="2.02"/>
<circle cx="191.3" cy="334.3" r="2.11"/>
<circle cx="196.5" cy="333.7" r="1.82"/>
<circle cx="183.1" cy="338.3" r="2.03"/>
<circle cx="187.8" cy="338.3" r="2.18"/>
<circle cx="193.0" cy="337.8" r="1.86"/>
<circle cx="198.3" cy="337.2" r="2.18"/>
<circle cx="184.8" cy="342.4" r="2.11"/>
<circle cx="189.5" cy="341.8" r="2.21"/>
<circle cx="194.2" cy="341.3" r="1.90"/>
<circle cx="198.8" cy="341.3" r="1.76"/>
<circle cx="188.9" cy="345.3" r="2.18"/>
<circle cx="193.0" cy="344.8" r="2.18"/>
<circle cx="197.1" cy="344.8" r="1.97"/>
<circle cx="200.0" cy="346.5" r="1.76"/>
<circle cx="202.9" cy="337.8" r="1.82"/>
<circle cx="206.4" cy="339.5" r="2.08"/>
<circle cx="202.3" cy="342.4" r="1.87"/>
<circle cx="205.8" cy="343.0" r="2.27"/>
<circle cx="209.3" cy="339.5" r="2.05"/>
<circle cx="211.7" cy="340.7" r="1.82"/>
<circle cx="201.8" cy="345.9" r="2.09"/>
<circle cx="216.3" cy="337.8" r="1.92"/>
<circle cx="216.9" cy="340.7" r="2.26"/>
<circle cx="216.3" cy="343.6" r="2.25"/>
<circle cx="223.3" cy="337.2" r="2.01"/>
<circle cx="225.1" cy="339.5" r="2.09"/>
<circle cx="223.3" cy="342.4" r="2.12"/>
<circle cx="226.8" cy="341.3" r="2.18"/>
<circle cx="65.0" cy="340.0" r="2.00"/>
<circle cx="70.0" cy="340.6" r="2.10"/>
<circle cx="76.6" cy="339.0" r="2.20"/>
<circle cx="82.0" cy="339.0" r="2.10"/>
<circle cx="83.0" cy="342.0" r="2.00"/>
<circle cx="85.6" cy="343.6" r="2.10"/>
<circle cx="237.0" cy="340.0" r="1.80"/>
<circle cx="246.7" cy="340.6" r="1.90"/>
<circle cx="255.3" cy="339.5" r="2.60"/>
<circle cx="261.8" cy="341.0" r="1.70"/>
<circle cx="270.0" cy="340.2" r="1.90"/>
</g>
<g stroke="#5a2530" stroke-width="0.8" fill="none">
<path d="M134.4 340.7H147.3M134.4 337.8V343.6M147.3 337.8V343.6"/>
<circle cx="140.8" cy="340.7" r="1.3" fill="#c56878"/>
</g>
<polygon points="90.0,432.8 91.3,432.3 92.6,431.9 93.8,431.4 95.1,430.9 96.4,430.3 97.7,429.7 99.0,429.2 100.3,428.6 101.5,427.7 102.8,426.0 104.1,424.3 105.4,422.6 106.7,420.9 108.0,418.9 109.2,416.6 110.5,414.4 111.8,412.1 113.1,409.9 114.4,408.5 115.7,407.2 117.0,405.9 118.2,404.7 119.5,403.5 120.8,402.9 122.1,402.3 123.4,401.6 124.7,401.0 125.9,400.3 127.2,399.7 128.5,399.1 129.8,398.7 131.1,399.0 132.3,399.2 133.6,399.5 134.9,399.8 136.2,400.5 137.5,401.2 138.8,401.9 140.1,402.7 141.3,403.4 142.6,404.1 143.9,405.2 145.2,406.3 146.5,407.4 147.8,408.5 149.0,409.7 150.3,410.8 151.6,412.0 152.9,413.3 154.2,414.6 155.4,415.8 156.7,417.1 158.0,418.0 159.3,418.9 160.6,419.8 161.9,420.7 163.2,421.6 164.4,422.4 165.7,422.7 167.0,422.7 167.0,443.3 165.7,443.3 164.4,443.6 163.2,444.4 161.9,445.3 160.6,446.2 159.3,447.1 158.0,448.0 156.7,448.9 155.4,449.9 154.2,451.0 152.9,452.1 151.6,453.1 150.3,454.2 149.0,455.1 147.8,456.1 146.5,457.1 145.2,458.0 143.9,459.0 142.6,459.9 141.3,460.8 140.1,461.7 138.8,462.6 137.5,463.5 136.2,464.3 134.9,465.2 133.6,465.5 132.3,465.8 131.1,466.0 129.8,466.3 128.5,465.5 127.2,464.6 125.9,463.8 124.7,462.9 123.4,462.1 122.1,461.2 120.8,460.4 119.5,459.5 118.2,458.3 117.0,456.9 115.7,455.5 114.4,454.1 113.1,452.7 111.8,450.8 110.5,449.0 109.2,447.1 108.0,445.3 106.7,443.7 105.4,442.4 104.1,441.1 102.8,439.8 101.5,438.6 100.3,437.7 99.0,437.1 97.7,436.4 96.4,435.8 95.1,435.2 93.8,434.5 92.6,434.0 91.3,433.6 90.0,433.2" fill="#c5dff7" fill-opacity="0.55" stroke="none"/>
<g fill="#c5dff7" stroke="#9fc2e3" stroke-width="0.7" fill-opacity="1">
<circle cx="90.3" cy="431.8" r="2.60"/>
<circle cx="163.9" cy="436.9" r="2.50"/>
<circle cx="111.8" cy="453.4" r="2.10"/>
<circle cx="104.7" cy="422.3" r="2.50"/>
<circle cx="110.2" cy="419.4" r="2.65"/>
<circle cx="133.3" cy="427.5" r="2.08"/>
<circle cx="142.1" cy="452.5" r="2.03"/>
<circle cx="158.9" cy="427.7" r="2.83"/>
<circle cx="129.5" cy="457.7" r="3.25"/>
<circle cx="112.1" cy="426.2" r="2.32"/>
<circle cx="150.3" cy="450.4" r="2.39"/>
<circle cx="113.6" cy="413.9" r="2.79"/>
<circle cx="108.0" cy="440.6" r="2.87"/>
<circle cx="138.4" cy="442.8" r="3.09"/>
<circle cx="99.4" cy="433.0" r="3.00"/>
<circle cx="131.1" cy="451.4" r="3.00"/>
<circle cx="146.8" cy="433.1" r="2.62"/>
<circle cx="146.4" cy="450.5" r="3.23"/>
<circle cx="150.6" cy="412.5" r="2.65"/>
<circle cx="130.8" cy="422.5" r="3.16"/>
<circle cx="120.2" cy="402.9" r="2.51"/>
<circle cx="96.5" cy="437.6" r="2.97"/>
<circle cx="147.5" cy="458.2" r="2.50"/>
<circle cx="116.1" cy="427.4" r="3.09"/>
<circle cx="150.6" cy="431.8" r="2.45"/>
<circle cx="96.9" cy="428.6" r="2.92"/>
<circle cx="143.2" cy="415.3" r="3.31"/>
<circle cx="140.2" cy="426.4" r="2.83"/>
<circle cx="153.0" cy="453.0" r="2.36"/>
<circle cx="142.5" cy="458.4" r="2.06"/>
<circle cx="146.0" cy="411.3" r="3.02"/>
<circle cx="109.0" cy="432.4" r="2.38"/>
<circle cx="148.5" cy="436.0" r="2.15"/>
<circle cx="121.3" cy="436.2" r="3.34"/>
<circle cx="107.4" cy="416.7" r="2.20"/>
<circle cx="95.0" cy="436.6" r="3.15"/>
<circle cx="134.2" cy="433.2" r="2.95"/>
<circle cx="127.7" cy="447.4" r="2.63"/>
<circle cx="138.9" cy="455.7" r="2.48"/>
<circle cx="98.8" cy="427.5" r="2.99"/>
<circle cx="138.0" cy="451.9" r="2.51"/>
<circle cx="160.1" cy="434.0" r="2.06"/>
<circle cx="118.3" cy="459.6" r="3.15"/>
<circle cx="160.2" cy="423.2" r="2.57"/>
<circle cx="162.5" cy="419.4" r="2.41"/>
<circle cx="153.6" cy="434.7" r="2.28"/>
<circle cx="146.3" cy="443.6" r="2.72"/>
<circle cx="129.1" cy="462.9" r="3.11"/>
<circle cx="111.0" cy="423.1" r="3.10"/>
<circle cx="127.1" cy="450.8" r="2.45"/>
<circle cx="123.5" cy="407.3" r="2.84"/>
<circle cx="116.8" cy="455.9" r="2.51"/>
<circle cx="139.4" cy="421.3" r="3.15"/>
<circle cx="157.3" cy="430.9" r="2.12"/>
<circle cx="111.6" cy="409.7" r="2.87"/>
<circle cx="149.8" cy="408.1" r="2.90"/>
<circle cx="129.1" cy="432.3" r="3.10"/>
<circle cx="154.3" cy="414.4" r="2.90"/>
<circle cx="95.2" cy="434.4" r="2.97"/>
<circle cx="131.9" cy="413.6" r="2.24"/>
<circle cx="92.1" cy="432.7" r="2.63"/>
<circle cx="111.8" cy="435.9" r="2.51"/>
<circle cx="121.8" cy="432.6" r="2.60"/>
<circle cx="115.9" cy="449.4" r="2.57"/>
<circle cx="149.4" cy="454.7" r="2.52"/>
<circle cx="133.0" cy="436.4" r="3.01"/>
<circle cx="127.9" cy="409.0" r="3.04"/>
<circle cx="93.1" cy="430.6" r="2.41"/>
<circle cx="139.6" cy="405.5" r="2.32"/>
<circle cx="151.9" cy="422.2" r="3.11"/>
<circle cx="112.6" cy="446.4" r="2.32"/>
<circle cx="159.3" cy="439.6" r="3.36"/>
<circle cx="117.5" cy="431.8" r="2.14"/>
<circle cx="119.0" cy="451.6" r="2.40"/>
<circle cx="122.7" cy="411.4" r="2.04"/>
<circle cx="103.6" cy="432.1" r="2.87"/>
<circle cx="153.1" cy="446.9" r="2.92"/>
<circle cx="139.4" cy="400.8" r="2.98"/>
<circle cx="162.5" cy="428.9" r="3.24"/>
<circle cx="121.3" cy="462.2" r="3.26"/>
<circle cx="146.8" cy="419.9" r="2.61"/>
<circle cx="160.7" cy="447.9" r="2.42"/>
<circle cx="141.0" cy="446.1" r="2.47"/>
<circle cx="156.2" cy="418.3" r="3.00"/>
<circle cx="155.6" cy="425.7" r="3.36"/>
<circle cx="128.4" cy="405.5" r="3.11"/>
<circle cx="117.0" cy="437.1" r="2.52"/>
<circle cx="107.6" cy="425.1" r="2.66"/>
<circle cx="115.6" cy="406.6" r="3.37"/>
<circle cx="122.5" cy="421.6" r="2.71"/>
<circle cx="145.3" cy="439.8" r="2.38"/>
<circle cx="119.5" cy="444.9" r="2.44"/>
<circle cx="90.2" cy="434.5" r="3.10"/>
<circle cx="132.7" cy="402.0" r="2.33"/>
<circle cx="123.3" cy="441.0" r="2.57"/>
<circle cx="141.6" cy="411.6" r="2.25"/>
<circle cx="100.6" cy="429.1" r="2.37"/>
<circle cx="116.3" cy="423.5" r="3.10"/>
<circle cx="103.5" cy="426.8" r="2.85"/>
<circle cx="119.6" cy="406.2" r="3.17"/>
<circle cx="143.8" cy="407.1" r="3.26"/>
<circle cx="139.4" cy="416.6" r="2.75"/>
<circle cx="136.5" cy="423.9" r="3.03"/>
<circle cx="151.1" cy="417.9" r="3.11"/>
<circle cx="97.2" cy="436.0" r="2.81"/>
<circle cx="115.1" cy="418.0" r="2.40"/>
<circle cx="133.1" cy="464.4" r="3.18"/>
<circle cx="141.6" cy="440.0" r="2.92"/>
<circle cx="130.6" cy="398.1" r="2.81"/>
<circle cx="106.7" cy="428.8" r="2.89"/>
<circle cx="139.3" cy="464.1" r="3.03"/>
<circle cx="140.1" cy="430.4" r="2.26"/>
<circle cx="110.7" cy="443.2" r="2.40"/>
<circle cx="99.0" cy="434.8" r="2.80"/>
<circle cx="135.3" cy="440.2" r="2.48"/>
<circle cx="143.6" cy="435.5" r="3.39"/>
<circle cx="156.0" cy="421.5" r="2.21"/>
<circle cx="165.3" cy="424.9" r="3.13"/>
<circle cx="92.4" cy="434.8" r="3.14"/>
<circle cx="129.7" cy="444.1" r="2.63"/>
<circle cx="85.8" cy="432.6" r="2.39"/>
<circle cx="156.7" cy="450.5" r="2.92"/>
<circle cx="124.7" cy="434.9" r="2.24"/>
<circle cx="125.6" cy="455.2" r="2.84"/>
<circle cx="152.7" cy="428.5" r="3.29"/>
<circle cx="156.7" cy="436.4" r="2.72"/>
<circle cx="128.1" cy="426.1" r="3.30"/>
<circle cx="118.3" cy="410.6" r="3.33"/>
<circle cx="122.1" cy="448.8" r="2.02"/>
<circle cx="88.1" cy="431.9" r="2.05"/>
<circle cx="129.4" cy="437.8" r="2.44"/>
<circle cx="144.8" cy="430.2" r="2.22"/>
<circle cx="164.1" cy="432.8" r="3.38"/>
<circle cx="118.9" cy="440.7" r="2.55"/>
<circle cx="99.4" cy="430.6" r="2.93"/>
<circle cx="128.4" cy="416.1" r="2.55"/>
<circle cx="146.9" cy="415.4" r="2.06"/>
<circle cx="143.4" cy="422.0" r="2.57"/>
<circle cx="101.8" cy="440.7" r="3.26"/>
<circle cx="167.7" cy="437.6" r="2.88"/>
<circle cx="135.9" cy="447.9" r="2.13"/>
<circle cx="124.1" cy="400.7" r="2.76"/>
<circle cx="102.6" cy="435.8" r="3.24"/>
<circle cx="158.6" cy="444.5" r="2.57"/>
<circle cx="165.8" cy="440.8" r="2.51"/>
<circle cx="124.8" cy="445.2" r="3.19"/>
<circle cx="147.8" cy="425.5" r="2.70"/>
<circle cx="162.7" cy="442.7" r="2.77"/>
<circle cx="150.5" cy="440.1" r="2.71"/>
<circle cx="99.5" cy="436.7" r="3.22"/>
<circle cx="137.5" cy="412.8" r="2.74"/>
<circle cx="135.3" cy="458.7" r="3.23"/>
<circle cx="126.8" cy="420.5" r="3.14"/>
<circle cx="134.3" cy="452.8" r="3.03"/>
<circle cx="88.3" cy="434.0" r="2.56"/>
<circle cx="123.9" cy="415.4" r="2.05"/>
<circle cx="155.7" cy="441.8" r="2.64"/>
<circle cx="119.8" cy="416.1" r="2.43"/>
<circle cx="95.5" cy="431.8" r="3.10"/>
<circle cx="112.3" cy="430.1" r="2.39"/>
<circle cx="127.7" cy="466.9" r="2.06"/>
<circle cx="122.2" cy="428.0" r="2.61"/>
<circle cx="134.5" cy="418.9" r="2.21"/>
<circle cx="134.6" cy="398.6" r="2.75"/>
<circle cx="121.7" cy="454.7" r="2.07"/>
<circle cx="144.2" cy="426.6" r="2.12"/>
<circle cx="167.5" cy="422.0" r="2.15"/>
<circle cx="124.6" cy="464.6" r="2.09"/>
<circle cx="166.6" cy="428.4" r="2.25"/>
<circle cx="104.6" cy="443.3" r="2.31"/>
<circle cx="125.3" cy="460.1" r="2.55"/>
<circle cx="98.7" cy="438.8" r="2.59"/>
<circle cx="126.4" cy="439.5" r="2.97"/>
<circle cx="139.0" cy="435.2" r="3.26"/>
<circle cx="128.5" cy="400.8" r="2.79"/>
<circle cx="134.0" cy="407.0" r="2.21"/>
<circle cx="134.3" cy="443.9" r="2.08"/>
<circle cx="145.4" cy="453.8" r="2.87"/>
<circle cx="106.6" cy="435.3" r="3.09"/>
<circle cx="114.1" cy="442.2" r="3.36"/>
<circle cx="148.4" cy="447.2" r="2.72"/>
<circle cx="108.3" cy="445.9" r="3.18"/>
<circle cx="170.7" cy="426.2" r="1.84"/>
<circle cx="176.7" cy="426.2" r="2.28"/>
<circle cx="181.2" cy="427.7" r="1.78"/>
<circle cx="169.2" cy="431.5" r="2.12"/>
<circle cx="174.5" cy="430.7" r="1.75"/>
<circle cx="179.0" cy="432.2" r="1.85"/>
<circle cx="171.5" cy="436.0" r="2.30"/>
<circle cx="176.7" cy="436.0" r="1.83"/>
<circle cx="181.2" cy="434.5" r="2.09"/>
<circle cx="172.2" cy="440.5" r="1.98"/>
<circle cx="177.5" cy="439.0" r="1.97"/>
<circle cx="169.2" cy="442.7" r="2.00"/>
<circle cx="189.5" cy="424.7" r="1.82"/>
<circle cx="185.7" cy="430.0" r="2.20"/>
<circle cx="191.7" cy="429.2" r="1.75"/>
<circle cx="198.5" cy="427.7" r="1.84"/>
<circle cx="188.0" cy="434.5" r="1.71"/>
<circle cx="193.2" cy="433.7" r="1.86"/>
<circle cx="198.5" cy="432.2" r="1.94"/>
<circle cx="202.2" cy="433.7" r="2.24"/>
<circle cx="185.7" cy="437.5" r="1.93"/>
<circle cx="191.0" cy="439.0" r="1.77"/>
<circle cx="197.7" cy="436.7" r="1.86"/>
<circle cx="190.2" cy="441.2" r="2.29"/>
<circle cx="199.2" cy="439.0" r="1.74"/>
<circle cx="210.5" cy="430.7" r="2.07"/>
<circle cx="212.0" cy="434.5" r="1.93"/>
<circle cx="218.7" cy="427.7" r="2.10"/>
<circle cx="218.0" cy="432.2" r="1.90"/>
<circle cx="222.5" cy="433.7" r="2.11"/>
<circle cx="220.2" cy="436.7" r="2.00"/>
<circle cx="232.2" cy="430.7" r="2.09"/>
<circle cx="236.7" cy="430.7" r="2.24"/>
<circle cx="241.2" cy="428.5" r="2.05"/>
<circle cx="233.0" cy="434.5" r="1.79"/>
<circle cx="239.7" cy="433.0" r="1.74"/>
<circle cx="243.5" cy="431.5" r="2.27"/>
<circle cx="242.7" cy="436.0" r="1.99"/>
<circle cx="75.0" cy="433.0" r="2.10"/>
<circle cx="81.4" cy="434.0" r="2.10"/>
<circle cx="247.8" cy="432.7" r="1.80"/>
<circle cx="254.7" cy="431.7" r="1.90"/>
<circle cx="264.7" cy="433.2" r="1.90"/>
</g>
<g stroke="#2b3440" stroke-width="0.8" fill="none">
<path d="M136.5 432.9H150.6M136.5 430.0V435.8M150.6 430.0V435.8"/>
<circle cx="143.6" cy="432.9" r="1.3" fill="#a9c4dc"/>
</g>
<path d="M49.4 386H285.6" stroke="#4a4a4a" stroke-width="1"/>
<rect x="49.4" y="285.2" width="236.20000000000002" height="203.10000000000002" fill="none" stroke="#4a4a4a" stroke-width="1"/>
<text x="9.0" y="285.4" font-size="12.5" font-weight="bold" fill="#111" style="stroke:#111;stroke-width:0.5px">c</text>
<text x="55.4" y="295.0" font-size="8.5" textLength="98.6" lengthAdjust="spacingAndGlyphs"><tspan font-style="italic">F</tspan>(1, 101) = 0.62, <tspan font-style="italic">P</tspan> = 0.432</text>
<text x="175.1" y="296.4" font-size="8.5" textLength="35.6" lengthAdjust="spacingAndGlyphs">Precision</text>
<text x="175.1" y="307.7" font-size="8.5" textLength="35.8" lengthAdjust="spacingAndGlyphs">(1/s.e.m.)</text>
<g fill="none" stroke="#7a7a7a" stroke-width="0.6">
<circle cx="226.5" cy="292.5" r="1.5"/>
<circle cx="253.4" cy="292.5" r="2.3"/>
<circle cx="226.5" cy="306.1" r="3.0"/>
<circle cx="253.8" cy="306.1" r="3.7"/>
</g>
<text x="233.1" y="295.6" font-size="8.5" textLength="11.8" lengthAdjust="spacingAndGlyphs">2.5</text>
<text x="260.5" y="295.6" font-size="8.5" textLength="13.0" lengthAdjust="spacingAndGlyphs">5.0</text>
<text x="233.0" y="309.0" font-size="8.5" textLength="12.0" lengthAdjust="spacingAndGlyphs">7.5</text>
<text x="260.1" y="309.0" font-size="8.5" textLength="17.6" lengthAdjust="spacingAndGlyphs">10.0</text>
<text x="9.6" y="332.4" font-size="9.5" textLength="34.8" lengthAdjust="spacingAndGlyphs">Physical</text>
<text x="13.0" y="343.0" font-size="9.5" textLength="27.0" lengthAdjust="spacingAndGlyphs">health</text>
<text x="12.0" y="431.0" font-size="9.5" textLength="29.4" lengthAdjust="spacingAndGlyphs">Mental</text>
<text x="13.0" y="441.4" font-size="9.5" textLength="27.0" lengthAdjust="spacingAndGlyphs">health</text>
<text x="64.0" y="382.6" font-size="8.5" textLength="30.0" lengthAdjust="spacingAndGlyphs"><tspan font-style="italic">k</tspan> = 245</text>
<text x="273.5" y="368.4" font-size="8.5" text-anchor="end" textLength="39.1" lengthAdjust="spacingAndGlyphs"><tspan font-style="italic">P</tspan> &lt; 0.001</text>
<text x="273.6" y="379.0" font-size="8.5" text-anchor="end" textLength="74.0" lengthAdjust="spacingAndGlyphs">0.50 [0.39, 0.62]</text>
<text x="64.0" y="485.6" font-size="8.5" textLength="30.0" lengthAdjust="spacingAndGlyphs"><tspan font-style="italic">k</tspan> = 224</text>
<text x="273.5" y="471.0" font-size="8.5" text-anchor="end" textLength="39.1" lengthAdjust="spacingAndGlyphs"><tspan font-style="italic">P</tspan> &lt; 0.001</text>
<text x="273.6" y="482.0" font-size="8.5" text-anchor="end" textLength="73.2" lengthAdjust="spacingAndGlyphs">0.55 [0.42, 0.68]</text>
<path d="M60.4 488.3v-3.6M113.7 488.3v-3.6M166.9 488.3v-3.6M220.2 488.3v-3.6M273.4 488.3v-3.6" stroke="#4a4a4a" stroke-width="0.8" fill="none"/>
<text x="60.1" y="500.5" font-size="8.2" text-anchor="middle" style="stroke-width:0.05px" fill="#333">-1</text>
<text x="113.7" y="500.5" font-size="8.2" text-anchor="middle" style="stroke-width:0.05px" fill="#333">0</text>
<text x="166.9" y="500.5" font-size="8.2" text-anchor="middle" style="stroke-width:0.05px" fill="#333">1</text>
<text x="220.2" y="500.5" font-size="8.2" text-anchor="middle" style="stroke-width:0.05px" fill="#333">2</text>
<text x="273.4" y="500.5" font-size="8.2" text-anchor="middle" style="stroke-width:0.05px" fill="#333">3</text>
<text x="146.1" y="513.6" font-size="9" textLength="43.0" lengthAdjust="spacingAndGlyphs">Hedges’ <tspan font-style="italic">g</tspan></text>
<rect x="343.8" y="285.2" width="235.99999999999994" height="100.80000000000001" fill="#ebebeb"/>
<g fill="#f6a9b9" stroke="#cc7f92" stroke-width="0.85" fill-opacity="1">
<circle cx="408.6" cy="327.7" r="2.23"/>
<circle cx="416.2" cy="357.9" r="2.19"/>
<circle cx="484.9" cy="334.4" r="1.83"/>
<circle cx="448.2" cy="324.4" r="2.38"/>
<circle cx="474.8" cy="345.8" r="2.08"/>
<circle cx="456.8" cy="350.5" r="2.30"/>
<circle cx="454.7" cy="319.7" r="2.57"/>
<circle cx="394.4" cy="356.5" r="1.86"/>
<circle cx="450.1" cy="320.4" r="1.86"/>
<circle cx="493.5" cy="342.5" r="1.94"/>
<circle cx="439.4" cy="349.8" r="2.36"/>
<circle cx="385.4" cy="333.1" r="2.36"/>
<circle cx="457.4" cy="333.1" r="2.45"/>
<circle cx="421.7" cy="337.7" r="2.14"/>
<circle cx="424.9" cy="349.2" r="1.95"/>
<circle cx="432.0" cy="325.7" r="2.69"/>
<circle cx="432.0" cy="356.5" r="2.68"/>
<circle cx="436.7" cy="363.9" r="2.29"/>
<circle cx="412.2" cy="333.1" r="2.63"/>
<circle cx="428.9" cy="370.6" r="2.67"/>
<circle cx="446.7" cy="366.5" r="2.17"/>
<circle cx="408.2" cy="366.9" r="2.26"/>
<circle cx="463.4" cy="332.4" r="2.10"/>
<circle cx="396.1" cy="347.8" r="2.47"/>
<circle cx="416.9" cy="324.4" r="2.59"/>
<circle cx="468.1" cy="340.5" r="2.08"/>
<circle cx="439.5" cy="360.0" r="1.87"/>
<circle cx="460.1" cy="323.1" r="1.94"/>
<circle cx="533.7" cy="345.0" r="2.41"/>
<circle cx="396.8" cy="331.1" r="2.55"/>
<circle cx="379.1" cy="342.5" r="1.81"/>
<circle cx="455.4" cy="359.9" r="2.07"/>
<circle cx="453.4" cy="329.8" r="2.17"/>
<circle cx="444.0" cy="308.4" r="2.31"/>
<circle cx="401.1" cy="356.5" r="2.48"/>
<circle cx="432.0" cy="349.2" r="2.65"/>
<circle cx="454.0" cy="354.7" r="1.92"/>
<circle cx="408.2" cy="339.8" r="2.52"/>
<circle cx="408.2" cy="314.4" r="2.33"/>
<circle cx="510.0" cy="340.0" r="2.35"/>
<circle cx="416.5" cy="337.5" r="2.16"/>
<circle cx="412.2" cy="349.2" r="2.00"/>
<circle cx="458.8" cy="327.7" r="2.06"/>
<circle cx="462.1" cy="341.8" r="2.70"/>
<circle cx="537.5" cy="343.8" r="2.22"/>
<circle cx="412.9" cy="367.2" r="2.15"/>
<circle cx="487.3" cy="346.5" r="2.58"/>
<circle cx="435.4" cy="307.7" r="2.61"/>
<circle cx="419.8" cy="344.7" r="2.59"/>
<circle cx="430.9" cy="321.7" r="2.64"/>
<circle cx="426.9" cy="356.5" r="2.57"/>
<circle cx="431.7" cy="344.4" r="1.96"/>
<circle cx="378.7" cy="349.6" r="2.01"/>
<circle cx="440.0" cy="315.7" r="1.99"/>
<circle cx="530.0" cy="337.0" r="1.85"/>
<circle cx="463.4" cy="345.8" r="2.38"/>
<circle cx="446.8" cy="342.3" r="1.83"/>
<circle cx="482.8" cy="341.8" r="2.17"/>
<circle cx="457.4" cy="339.1" r="2.25"/>
<circle cx="417.5" cy="366.9" r="2.12"/>
<circle cx="408.6" cy="353.8" r="1.92"/>
<circle cx="453.1" cy="335.6" r="2.59"/>
<circle cx="463.4" cy="327.1" r="2.49"/>
<circle cx="399.7" cy="343.8" r="2.27"/>
<circle cx="458.8" cy="354.5" r="2.26"/>
<circle cx="412.2" cy="316.4" r="2.07"/>
<circle cx="448.7" cy="356.5" r="2.45"/>
<circle cx="536.2" cy="341.2" r="2.36"/>
<circle cx="444.7" cy="355.8" r="2.19"/>
<circle cx="466.8" cy="333.8" r="2.59"/>
<circle cx="450.2" cy="351.9" r="2.28"/>
<circle cx="436.7" cy="319.7" r="2.32"/>
<circle cx="448.1" cy="335.1" r="1.84"/>
<circle cx="416.9" cy="313.4" r="0.60"/>
<circle cx="378.7" cy="331.8" r="2.13"/>
<circle cx="447.4" cy="330.4" r="2.52"/>
<circle cx="473.5" cy="350.5" r="2.61"/>
<circle cx="404.4" cy="342.2" r="2.14"/>
<circle cx="428.5" cy="364.1" r="1.91"/>
<circle cx="420.2" cy="359.2" r="2.36"/>
<circle cx="452.1" cy="341.8" r="2.68"/>
<circle cx="421.5" cy="355.2" r="2.37"/>
<circle cx="469.5" cy="328.4" r="2.59"/>
<circle cx="401.7" cy="336.7" r="1.94"/>
<circle cx="441.4" cy="340.9" r="2.34"/>
<circle cx="439.4" cy="334.4" r="2.35"/>
<circle cx="453.6" cy="348.1" r="2.11"/>
<circle cx="430.9" cy="331.8" r="2.40"/>
<circle cx="417.5" cy="329.8" r="2.44"/>
<circle cx="378.5" cy="335.8" r="2.34"/>
<circle cx="393.5" cy="342.7" r="2.58"/>
<circle cx="447.1" cy="316.4" r="2.55"/>
<circle cx="428.2" cy="309.0" r="2.33"/>
<circle cx="384.1" cy="345.1" r="2.55"/>
<circle cx="427.6" cy="325.1" r="2.57"/>
<circle cx="366.7" cy="340.2" r="2.01"/>
<circle cx="498.2" cy="337.5" r="2.35"/>
<circle cx="415.5" cy="320.4" r="1.83"/>
<circle cx="382.7" cy="338.9" r="1.86"/>
<circle cx="462.0" cy="336.6" r="2.06"/>
<circle cx="406.1" cy="332.6" r="2.56"/>
<circle cx="424.9" cy="320.4" r="2.41"/>
<circle cx="566.7" cy="340.0" r="2.12"/>
<circle cx="408.6" cy="343.8" r="2.20"/>
<circle cx="447.4" cy="348.5" r="2.21"/>
<circle cx="400.4" cy="324.1" r="2.22"/>
<circle cx="424.9" cy="334.4" r="2.69"/>
<circle cx="432.7" cy="370.6" r="1.82"/>
<circle cx="498.9" cy="342.5" r="1.84"/>
<circle cx="412.9" cy="325.7" r="2.45"/>
<circle cx="428.3" cy="352.0" r="2.24"/>
<circle cx="408.8" cy="323.1" r="2.58"/>
<circle cx="408.2" cy="348.5" r="1.89"/>
<circle cx="444.7" cy="312.7" r="2.04"/>
<circle cx="432.7" cy="365.2" r="1.81"/>
<circle cx="427.2" cy="344.1" r="1.85"/>
<circle cx="462.1" cy="349.2" r="2.34"/>
<circle cx="424.2" cy="316.4" r="2.61"/>
<circle cx="488.9" cy="339.1" r="1.98"/>
<circle cx="456.8" cy="345.8" r="2.27"/>
<circle cx="388.1" cy="347.8" r="2.03"/>
<circle cx="432.7" cy="333.8" r="1.84"/>
<circle cx="422.1" cy="326.9" r="2.40"/>
<circle cx="443.4" cy="363.9" r="2.27"/>
<circle cx="443.4" cy="323.1" r="2.06"/>
<circle cx="396.1" cy="339.8" r="2.37"/>
<circle cx="397.7" cy="335.1" r="2.38"/>
<circle cx="393.0" cy="334.8" r="2.23"/>
<circle cx="432.7" cy="315.7" r="2.44"/>
<circle cx="420.4" cy="334.2" r="2.48"/>
<circle cx="418.2" cy="351.8" r="2.67"/>
<circle cx="436.7" cy="355.8" r="2.01"/>
<circle cx="438.0" cy="369.9" r="2.32"/>
<circle cx="410.2" cy="361.9" r="2.07"/>
<circle cx="436.7" cy="345.1" r="2.14"/>
<circle cx="393.5" cy="326.8" r="2.70"/>
<circle cx="475.5" cy="335.1" r="1.87"/>
<circle cx="397.5" cy="352.2" r="2.40"/>
<circle cx="434.2" cy="339.3" r="2.05"/>
<circle cx="424.3" cy="311.6" r="2.21"/>
<circle cx="474.8" cy="340.5" r="2.34"/>
<circle cx="371.0" cy="343.1" r="2.29"/>
<circle cx="423.6" cy="362.5" r="2.33"/>
<circle cx="416.2" cy="343.1" r="2.64"/>
<circle cx="438.7" cy="328.4" r="1.88"/>
<circle cx="477.5" cy="347.8" r="2.66"/>
<circle cx="520.0" cy="340.7" r="2.37"/>
</g>
<g stroke="#4a2a30" stroke-width="0.8" fill="none">
<path d="M427.8 340.5H444.4M427.8 337.6V343.4M444.4 337.6V343.4"/>
<circle cx="436.3" cy="340.5" r="1.3" fill="#e0a0ac"/>
</g>
<g fill="#d9e8f6" stroke="#a9c6e2" stroke-width="1.0" fill-opacity="1">
<circle cx="421.0" cy="405.3" r="1.90"/>
<circle cx="375.0" cy="421.8" r="2.70"/>
<circle cx="408.0" cy="425.5" r="2.30"/>
<circle cx="367.8" cy="433.0" r="2.00"/>
<circle cx="431.0" cy="428.7" r="1.90"/>
<circle cx="375.0" cy="444.5" r="2.70"/>
<circle cx="415.5" cy="441.7" r="2.20"/>
<circle cx="438.2" cy="444.5" r="2.00"/>
<circle cx="405.0" cy="452.2" r="2.10"/>
<circle cx="428.7" cy="464.3" r="2.70"/>
<circle cx="450.4" cy="418.3" r="1.90"/>
<circle cx="493.0" cy="410.2" r="2.20"/>
<circle cx="471.5" cy="424.5" r="2.20"/>
<circle cx="511.6" cy="431.6" r="2.30"/>
<circle cx="481.5" cy="436.0" r="2.00"/>
<circle cx="514.2" cy="441.2" r="1.90"/>
<circle cx="460.0" cy="446.5" r="2.00"/>
<circle cx="494.5" cy="457.2" r="2.00"/>
</g>
<g stroke="#3a3a3a" stroke-width="0.8" fill="none">
<path d="M428.5 433.0H464.2M428.5 430.1V435.9M464.2 430.1V435.9"/>
<circle cx="445.8" cy="433.0" r="1.3" fill="#fff"/>
</g>
<path d="M343.8 386H579.8" stroke="#4a4a4a" stroke-width="1"/>
<rect x="343.8" y="285.2" width="235.99999999999994" height="203.10000000000002" fill="none" stroke="#4a4a4a" stroke-width="1"/>
<text x="304.0" y="285.4" font-size="12.5" font-weight="bold" fill="#111" style="stroke:#111;stroke-width:0.5px">d</text>
<text x="350.6" y="295.0" font-size="8.5" textLength="90.4" lengthAdjust="spacingAndGlyphs"><tspan font-style="italic">F</tspan>(1, 61) = 1.17, <tspan font-style="italic">P</tspan> = 0.284</text>
<text x="469.3" y="296.4" font-size="8.5" textLength="35.6" lengthAdjust="spacingAndGlyphs">Precision</text>
<text x="469.3" y="307.7" font-size="8.5" textLength="35.8" lengthAdjust="spacingAndGlyphs">(1/s.e.m.)</text>
<g fill="none" stroke="#7a7a7a" stroke-width="0.6">
<circle cx="520.7" cy="292.5" r="1.5"/>
<circle cx="547.6" cy="292.5" r="2.3"/>
<circle cx="520.7" cy="306.1" r="3.0"/>
<circle cx="548.0" cy="306.1" r="3.7"/>
</g>
<text x="527.3" y="295.6" font-size="8.5" textLength="11.8" lengthAdjust="spacingAndGlyphs">2.5</text>
<text x="554.7" y="295.6" font-size="8.5" textLength="13.0" lengthAdjust="spacingAndGlyphs">5.0</text>
<text x="527.2" y="309.0" font-size="8.5" textLength="12.0" lengthAdjust="spacingAndGlyphs">7.5</text>
<text x="554.3" y="309.0" font-size="8.5" textLength="17.6" lengthAdjust="spacingAndGlyphs">10.0</text>
<text x="304.0" y="332.4" font-size="9.5" textLength="35.0" lengthAdjust="spacingAndGlyphs">Physical</text>
<text x="307.4" y="343.0" font-size="9.5" textLength="27.0" lengthAdjust="spacingAndGlyphs">health</text>
<text x="306.6" y="431.0" font-size="9.5" textLength="29.4" lengthAdjust="spacingAndGlyphs">Mental</text>
<text x="307.4" y="441.4" font-size="9.5" textLength="27.0" lengthAdjust="spacingAndGlyphs">health</text>
<text x="359.0" y="382.6" font-size="8.5" textLength="26.4" lengthAdjust="spacingAndGlyphs"><tspan font-style="italic">k</tspan> = 151</text>
<text x="567.7" y="368.4" font-size="8.5" text-anchor="end" textLength="39.0" lengthAdjust="spacingAndGlyphs"><tspan font-style="italic">P</tspan> &lt; 0.001</text>
<text x="568.0" y="379.0" font-size="8.5" text-anchor="end" textLength="73.0" lengthAdjust="spacingAndGlyphs">0.53 [0.37, 0.68]</text>
<text x="359.0" y="485.6" font-size="8.5" textLength="22.4" lengthAdjust="spacingAndGlyphs"><tspan font-style="italic">k</tspan> = 21</text>
<text x="567.7" y="471.0" font-size="8.5" text-anchor="end" textLength="39.0" lengthAdjust="spacingAndGlyphs"><tspan font-style="italic">P</tspan> &lt; 0.001</text>
<text x="568.0" y="482.0" font-size="8.5" text-anchor="end" textLength="69.0" lengthAdjust="spacingAndGlyphs">0.71 [0.38, 1.04]</text>
<path d="M354.3 488.3v-3.6M406.9 488.3v-3.6M459.4 488.3v-3.6M511.9 488.3v-3.6M564.5 488.3v-3.6" stroke="#4a4a4a" stroke-width="0.8" fill="none"/>
<text x="354.0" y="500.4" font-size="8.2" text-anchor="middle" style="stroke-width:0.05px" fill="#333">-1</text>
<text x="406.9" y="500.4" font-size="8.2" text-anchor="middle" style="stroke-width:0.05px" fill="#333">0</text>
<text x="459.4" y="500.4" font-size="8.2" text-anchor="middle" style="stroke-width:0.05px" fill="#333">1</text>
<text x="511.9" y="500.4" font-size="8.2" text-anchor="middle" style="stroke-width:0.05px" fill="#333">2</text>
<text x="564.5" y="500.4" font-size="8.2" text-anchor="middle" style="stroke-width:0.05px" fill="#333">3</text>
<text x="440.5" y="513.2" font-size="9" textLength="43.0" lengthAdjust="spacingAndGlyphs">Hedges’ <tspan font-style="italic">g</tspan></text>
</svg>
</body></html>
